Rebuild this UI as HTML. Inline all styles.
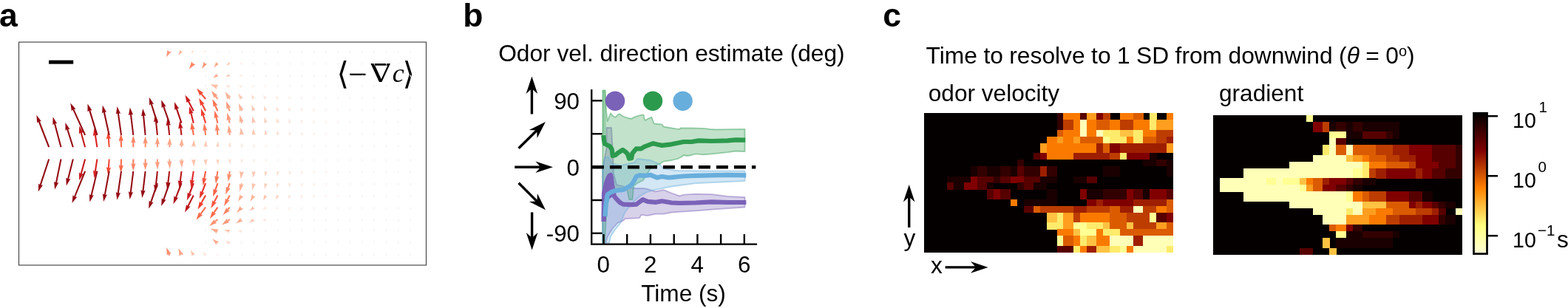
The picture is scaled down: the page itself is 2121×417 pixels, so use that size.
<!DOCTYPE html>
<html lang="en"><head><meta charset="utf-8"><title>Figure</title>
<style>html,body{margin:0;padding:0;background:#fff}body{width:2121px;height:417px;overflow:hidden}svg{display:block}</style>
</head><body>
<svg width="2121" height="417" viewBox="0 0 2121 417" font-family='"Liberation Sans", sans-serif' fill="#000">
<text x="-1" y="36.3" font-size="44.5" font-weight="bold" text-anchor="start" >a</text>
<text x="626.3" y="36.3" font-size="44.5" font-weight="bold" text-anchor="start" >b</text>
<text x="1194.3" y="36.3" font-size="44.5" font-weight="bold" text-anchor="start" >c</text>
<rect x="25.5" y="57" width="551" height="302" fill="#fff" stroke="#444" stroke-width="1.15"/>
<rect x="66" y="81.6" width="33.2" height="5" fill="#000"/>
<g font-family="'DejaVu Sans', 'DejaVu Serif', serif"><text x="455.5" y="114.2" font-size="42.3">⟨</text><text x="470.9" y="116.3" font-size="46" font-family="'Liberation Serif', 'DejaVu Serif', serif">−</text><text transform="translate(529,110.5) scale(-1.2,1)" font-size="34.5" font-family="'DejaVu Serif', serif">∇</text><text x="530.7" y="110.5" font-size="36" font-style="italic" font-family="'Liberation Serif', 'DejaVu Serif', serif">c</text><text x="544.6" y="114.2" font-size="42.3">⟩</text></g>
<g><path d="M277.2 199.2 h1.8 l-0.9 -4.5 Z" fill="#f3f0f1"/><path d="M277.2 215.5 h1.8 l-0.9 4.5 Z" fill="#f3f0f1"/><path d="M277.2 182.9 h1.8 l-0.9 -4.5 Z" fill="#f3f0f1"/><path d="M277.2 231.8 h1.8 l-0.9 4.5 Z" fill="#f3f0f1"/><path d="M277.2 166.6 h1.8 l-0.9 -4.5 Z" fill="#f3f0f1"/><path d="M277.2 248.1 h1.8 l-0.9 4.5 Z" fill="#f3f0f1"/><path d="M277.2 150.3 h1.8 l-0.9 -4.5 Z" fill="#f3f0f1"/><path d="M277.2 264.4 h1.8 l-0.9 4.5 Z" fill="#f3f0f1"/><path d="M277.2 134.0 h1.8 l-0.9 -4.5 Z" fill="#f3f0f1"/><path d="M277.2 280.7 h1.8 l-0.9 4.5 Z" fill="#f3f0f1"/><path d="M277.2 117.7 h1.8 l-0.9 -4.5 Z" fill="#f3f0f1"/><path d="M277.2 297.0 h1.8 l-0.9 4.5 Z" fill="#f3f0f1"/><path d="M277.2 101.4 h1.8 l-0.9 4.5 Z" fill="#f3f0f1"/><path d="M277.2 313.3 h1.8 l-0.9 -4.5 Z" fill="#f3f0f1"/><path d="M277.2 85.1 h1.8 l-0.9 4.5 Z" fill="#f3f0f1"/><path d="M277.2 329.6 h1.8 l-0.9 -4.5 Z" fill="#f3f0f1"/><path d="M277.2 68.8 h1.8 l-0.9 4.5 Z" fill="#f3f0f1"/><path d="M277.2 345.9 h1.8 l-0.9 -4.5 Z" fill="#f3f0f1"/><path d="M293.5 199.2 h1.8 l-0.9 -4.5 Z" fill="#f3f0f1"/><path d="M293.5 215.5 h1.8 l-0.9 4.5 Z" fill="#f3f0f1"/><path d="M293.5 182.9 h1.8 l-0.9 -4.5 Z" fill="#f3f0f1"/><path d="M293.5 231.8 h1.8 l-0.9 4.5 Z" fill="#f3f0f1"/><path d="M293.5 166.6 h1.8 l-0.9 -4.5 Z" fill="#f3f0f1"/><path d="M293.5 248.1 h1.8 l-0.9 4.5 Z" fill="#f3f0f1"/><path d="M293.5 150.3 h1.8 l-0.9 -4.5 Z" fill="#f3f0f1"/><path d="M293.5 264.4 h1.8 l-0.9 4.5 Z" fill="#f3f0f1"/><path d="M293.5 134.0 h1.8 l-0.9 -4.5 Z" fill="#f3f0f1"/><path d="M293.5 280.7 h1.8 l-0.9 4.5 Z" fill="#f3f0f1"/><path d="M293.5 117.7 h1.8 l-0.9 -4.5 Z" fill="#f3f0f1"/><path d="M293.5 297.0 h1.8 l-0.9 4.5 Z" fill="#f3f0f1"/><path d="M293.5 101.4 h1.8 l-0.9 4.5 Z" fill="#f3f0f1"/><path d="M293.5 313.3 h1.8 l-0.9 -4.5 Z" fill="#f3f0f1"/><path d="M293.5 85.1 h1.8 l-0.9 4.5 Z" fill="#f3f0f1"/><path d="M293.5 329.6 h1.8 l-0.9 -4.5 Z" fill="#f3f0f1"/><path d="M293.5 68.8 h1.8 l-0.9 4.5 Z" fill="#f3f0f1"/><path d="M293.5 345.9 h1.8 l-0.9 -4.5 Z" fill="#f3f0f1"/><path d="M309.8 199.2 h1.8 l-0.9 -4.5 Z" fill="#f3f0f1"/><path d="M309.8 215.5 h1.8 l-0.9 4.5 Z" fill="#f3f0f1"/><path d="M309.8 182.9 h1.8 l-0.9 -4.5 Z" fill="#f3f0f1"/><path d="M309.8 231.8 h1.8 l-0.9 4.5 Z" fill="#f3f0f1"/><path d="M309.8 166.6 h1.8 l-0.9 -4.5 Z" fill="#f3f0f1"/><path d="M309.8 248.1 h1.8 l-0.9 4.5 Z" fill="#f3f0f1"/><path d="M309.8 150.3 h1.8 l-0.9 -4.5 Z" fill="#f3f0f1"/><path d="M309.8 264.4 h1.8 l-0.9 4.5 Z" fill="#f3f0f1"/><path d="M309.8 134.0 h1.8 l-0.9 -4.5 Z" fill="#f3f0f1"/><path d="M309.8 280.7 h1.8 l-0.9 4.5 Z" fill="#f3f0f1"/><path d="M309.8 117.7 h1.8 l-0.9 -4.5 Z" fill="#f3f0f1"/><path d="M309.8 297.0 h1.8 l-0.9 4.5 Z" fill="#f3f0f1"/><path d="M309.8 101.4 h1.8 l-0.9 4.5 Z" fill="#f3f0f1"/><path d="M309.8 313.3 h1.8 l-0.9 -4.5 Z" fill="#f3f0f1"/><path d="M309.8 85.1 h1.8 l-0.9 4.5 Z" fill="#f3f0f1"/><path d="M309.8 329.6 h1.8 l-0.9 -4.5 Z" fill="#f3f0f1"/><path d="M309.8 68.8 h1.8 l-0.9 4.5 Z" fill="#f3f0f1"/><path d="M309.8 345.9 h1.8 l-0.9 -4.5 Z" fill="#f3f0f1"/><path d="M326.1 199.2 h1.8 l-0.9 -4.5 Z" fill="#f3f0f1"/><path d="M326.1 215.5 h1.8 l-0.9 4.5 Z" fill="#f3f0f1"/><path d="M326.1 182.9 h1.8 l-0.9 -4.5 Z" fill="#f3f0f1"/><path d="M326.1 231.8 h1.8 l-0.9 4.5 Z" fill="#f3f0f1"/><path d="M326.1 166.6 h1.8 l-0.9 -4.5 Z" fill="#f3f0f1"/><path d="M326.1 248.1 h1.8 l-0.9 4.5 Z" fill="#f3f0f1"/><path d="M326.1 150.3 h1.8 l-0.9 -4.5 Z" fill="#f3f0f1"/><path d="M326.1 264.4 h1.8 l-0.9 4.5 Z" fill="#f3f0f1"/><path d="M326.1 134.0 h1.8 l-0.9 -4.5 Z" fill="#f3f0f1"/><path d="M326.1 280.7 h1.8 l-0.9 4.5 Z" fill="#f3f0f1"/><path d="M326.1 117.7 h1.8 l-0.9 -4.5 Z" fill="#f3f0f1"/><path d="M326.1 297.0 h1.8 l-0.9 4.5 Z" fill="#f3f0f1"/><path d="M326.1 101.4 h1.8 l-0.9 4.5 Z" fill="#f3f0f1"/><path d="M326.1 313.3 h1.8 l-0.9 -4.5 Z" fill="#f3f0f1"/><path d="M326.1 85.1 h1.8 l-0.9 4.5 Z" fill="#f3f0f1"/><path d="M326.1 329.6 h1.8 l-0.9 -4.5 Z" fill="#f3f0f1"/><path d="M326.1 68.8 h1.8 l-0.9 4.5 Z" fill="#f3f0f1"/><path d="M326.1 345.9 h1.8 l-0.9 -4.5 Z" fill="#f3f0f1"/><path d="M342.4 199.2 h1.8 l-0.9 -4.5 Z" fill="#f3f0f1"/><path d="M342.4 215.5 h1.8 l-0.9 4.5 Z" fill="#f3f0f1"/><path d="M342.4 182.9 h1.8 l-0.9 -4.5 Z" fill="#f3f0f1"/><path d="M342.4 231.8 h1.8 l-0.9 4.5 Z" fill="#f3f0f1"/><path d="M342.4 166.6 h1.8 l-0.9 -4.5 Z" fill="#f3f0f1"/><path d="M342.4 248.1 h1.8 l-0.9 4.5 Z" fill="#f3f0f1"/><path d="M342.4 150.3 h1.8 l-0.9 -4.5 Z" fill="#f3f0f1"/><path d="M342.4 264.4 h1.8 l-0.9 4.5 Z" fill="#f3f0f1"/><path d="M342.4 134.0 h1.8 l-0.9 -4.5 Z" fill="#f3f0f1"/><path d="M342.4 280.7 h1.8 l-0.9 4.5 Z" fill="#f3f0f1"/><path d="M342.4 117.7 h1.8 l-0.9 -4.5 Z" fill="#f3f0f1"/><path d="M342.4 297.0 h1.8 l-0.9 4.5 Z" fill="#f3f0f1"/><path d="M342.4 101.4 h1.8 l-0.9 4.5 Z" fill="#f3f0f1"/><path d="M342.4 313.3 h1.8 l-0.9 -4.5 Z" fill="#f3f0f1"/><path d="M342.4 85.1 h1.8 l-0.9 4.5 Z" fill="#f3f0f1"/><path d="M342.4 329.6 h1.8 l-0.9 -4.5 Z" fill="#f3f0f1"/><path d="M342.4 68.8 h1.8 l-0.9 4.5 Z" fill="#f3f0f1"/><path d="M342.4 345.9 h1.8 l-0.9 -4.5 Z" fill="#f3f0f1"/><path d="M358.7 199.2 h1.8 l-0.9 -4.5 Z" fill="#f3f0f1"/><path d="M358.7 215.5 h1.8 l-0.9 4.5 Z" fill="#f3f0f1"/><path d="M358.7 182.9 h1.8 l-0.9 -4.5 Z" fill="#f3f0f1"/><path d="M358.7 231.8 h1.8 l-0.9 4.5 Z" fill="#f3f0f1"/><path d="M358.7 166.6 h1.8 l-0.9 -4.5 Z" fill="#f3f0f1"/><path d="M358.7 248.1 h1.8 l-0.9 4.5 Z" fill="#f3f0f1"/><path d="M358.7 150.3 h1.8 l-0.9 -4.5 Z" fill="#f3f0f1"/><path d="M358.7 264.4 h1.8 l-0.9 4.5 Z" fill="#f3f0f1"/><path d="M358.7 134.0 h1.8 l-0.9 -4.5 Z" fill="#f3f0f1"/><path d="M358.7 280.7 h1.8 l-0.9 4.5 Z" fill="#f3f0f1"/><path d="M358.7 117.7 h1.8 l-0.9 -4.5 Z" fill="#f3f0f1"/><path d="M358.7 297.0 h1.8 l-0.9 4.5 Z" fill="#f3f0f1"/><path d="M358.7 101.4 h1.8 l-0.9 4.5 Z" fill="#f3f0f1"/><path d="M358.7 313.3 h1.8 l-0.9 -4.5 Z" fill="#f3f0f1"/><path d="M358.7 85.1 h1.8 l-0.9 4.5 Z" fill="#f3f0f1"/><path d="M358.7 329.6 h1.8 l-0.9 -4.5 Z" fill="#f3f0f1"/><path d="M358.7 68.8 h1.8 l-0.9 4.5 Z" fill="#f3f0f1"/><path d="M358.7 345.9 h1.8 l-0.9 -4.5 Z" fill="#f3f0f1"/><path d="M375.0 199.2 h1.8 l-0.9 -4.5 Z" fill="#f3f0f1"/><path d="M375.0 215.5 h1.8 l-0.9 4.5 Z" fill="#f3f0f1"/><path d="M375.0 182.9 h1.8 l-0.9 -4.5 Z" fill="#f3f0f1"/><path d="M375.0 231.8 h1.8 l-0.9 4.5 Z" fill="#f3f0f1"/><path d="M375.0 166.6 h1.8 l-0.9 -4.5 Z" fill="#f3f0f1"/><path d="M375.0 248.1 h1.8 l-0.9 4.5 Z" fill="#f3f0f1"/><path d="M375.0 150.3 h1.8 l-0.9 -4.5 Z" fill="#f3f0f1"/><path d="M375.0 264.4 h1.8 l-0.9 4.5 Z" fill="#f3f0f1"/><path d="M375.0 134.0 h1.8 l-0.9 -4.5 Z" fill="#f3f0f1"/><path d="M375.0 280.7 h1.8 l-0.9 4.5 Z" fill="#f3f0f1"/><path d="M375.0 117.7 h1.8 l-0.9 -4.5 Z" fill="#f3f0f1"/><path d="M375.0 297.0 h1.8 l-0.9 4.5 Z" fill="#f3f0f1"/><path d="M375.0 101.4 h1.8 l-0.9 4.5 Z" fill="#f3f0f1"/><path d="M375.0 313.3 h1.8 l-0.9 -4.5 Z" fill="#f3f0f1"/><path d="M375.0 85.1 h1.8 l-0.9 4.5 Z" fill="#f3f0f1"/><path d="M375.0 329.6 h1.8 l-0.9 -4.5 Z" fill="#f3f0f1"/><path d="M375.0 68.8 h1.8 l-0.9 4.5 Z" fill="#f3f0f1"/><path d="M375.0 345.9 h1.8 l-0.9 -4.5 Z" fill="#f3f0f1"/><path d="M391.3 199.2 h1.8 l-0.9 -4.5 Z" fill="#f3f0f1"/><path d="M391.3 215.5 h1.8 l-0.9 4.5 Z" fill="#f3f0f1"/><path d="M391.3 182.9 h1.8 l-0.9 -4.5 Z" fill="#f3f0f1"/><path d="M391.3 231.8 h1.8 l-0.9 4.5 Z" fill="#f3f0f1"/><path d="M391.3 166.6 h1.8 l-0.9 -4.5 Z" fill="#f3f0f1"/><path d="M391.3 248.1 h1.8 l-0.9 4.5 Z" fill="#f3f0f1"/><path d="M391.3 150.3 h1.8 l-0.9 -4.5 Z" fill="#f3f0f1"/><path d="M391.3 264.4 h1.8 l-0.9 4.5 Z" fill="#f3f0f1"/><path d="M391.3 134.0 h1.8 l-0.9 -4.5 Z" fill="#f3f0f1"/><path d="M391.3 280.7 h1.8 l-0.9 4.5 Z" fill="#f3f0f1"/><path d="M391.3 117.7 h1.8 l-0.9 -4.5 Z" fill="#f3f0f1"/><path d="M391.3 297.0 h1.8 l-0.9 4.5 Z" fill="#f3f0f1"/><path d="M391.3 101.4 h1.8 l-0.9 4.5 Z" fill="#f3f0f1"/><path d="M391.3 313.3 h1.8 l-0.9 -4.5 Z" fill="#f3f0f1"/><path d="M391.3 85.1 h1.8 l-0.9 4.5 Z" fill="#f3f0f1"/><path d="M391.3 329.6 h1.8 l-0.9 -4.5 Z" fill="#f3f0f1"/><path d="M391.3 68.8 h1.8 l-0.9 4.5 Z" fill="#f3f0f1"/><path d="M391.3 345.9 h1.8 l-0.9 -4.5 Z" fill="#f3f0f1"/><path d="M407.6 199.2 h1.8 l-0.9 -4.5 Z" fill="#f3f0f1"/><path d="M407.6 215.5 h1.8 l-0.9 4.5 Z" fill="#f3f0f1"/><path d="M407.6 182.9 h1.8 l-0.9 -4.5 Z" fill="#f3f0f1"/><path d="M407.6 231.8 h1.8 l-0.9 4.5 Z" fill="#f3f0f1"/><path d="M407.6 166.6 h1.8 l-0.9 -4.5 Z" fill="#f3f0f1"/><path d="M407.6 248.1 h1.8 l-0.9 4.5 Z" fill="#f3f0f1"/><path d="M407.6 150.3 h1.8 l-0.9 -4.5 Z" fill="#f3f0f1"/><path d="M407.6 264.4 h1.8 l-0.9 4.5 Z" fill="#f3f0f1"/><path d="M407.6 134.0 h1.8 l-0.9 -4.5 Z" fill="#f3f0f1"/><path d="M407.6 280.7 h1.8 l-0.9 4.5 Z" fill="#f3f0f1"/><path d="M407.6 117.7 h1.8 l-0.9 -4.5 Z" fill="#f3f0f1"/><path d="M407.6 297.0 h1.8 l-0.9 4.5 Z" fill="#f3f0f1"/><path d="M407.6 101.4 h1.8 l-0.9 4.5 Z" fill="#f3f0f1"/><path d="M407.6 313.3 h1.8 l-0.9 -4.5 Z" fill="#f3f0f1"/><path d="M407.6 85.1 h1.8 l-0.9 4.5 Z" fill="#f3f0f1"/><path d="M407.6 329.6 h1.8 l-0.9 -4.5 Z" fill="#f3f0f1"/><path d="M407.6 68.8 h1.8 l-0.9 4.5 Z" fill="#f3f0f1"/><path d="M407.6 345.9 h1.8 l-0.9 -4.5 Z" fill="#f3f0f1"/><path d="M423.9 199.2 h1.8 l-0.9 -4.5 Z" fill="#f3f0f1"/><path d="M423.9 215.5 h1.8 l-0.9 4.5 Z" fill="#f3f0f1"/><path d="M423.9 182.9 h1.8 l-0.9 -4.5 Z" fill="#f3f0f1"/><path d="M423.9 231.8 h1.8 l-0.9 4.5 Z" fill="#f3f0f1"/><path d="M423.9 166.6 h1.8 l-0.9 -4.5 Z" fill="#f3f0f1"/><path d="M423.9 248.1 h1.8 l-0.9 4.5 Z" fill="#f3f0f1"/><path d="M423.9 150.3 h1.8 l-0.9 -4.5 Z" fill="#f3f0f1"/><path d="M423.9 264.4 h1.8 l-0.9 4.5 Z" fill="#f3f0f1"/><path d="M423.9 134.0 h1.8 l-0.9 -4.5 Z" fill="#f3f0f1"/><path d="M423.9 280.7 h1.8 l-0.9 4.5 Z" fill="#f3f0f1"/><path d="M423.9 117.7 h1.8 l-0.9 -4.5 Z" fill="#f3f0f1"/><path d="M423.9 297.0 h1.8 l-0.9 4.5 Z" fill="#f3f0f1"/><path d="M423.9 101.4 h1.8 l-0.9 4.5 Z" fill="#f3f0f1"/><path d="M423.9 313.3 h1.8 l-0.9 -4.5 Z" fill="#f3f0f1"/><path d="M423.9 85.1 h1.8 l-0.9 4.5 Z" fill="#f3f0f1"/><path d="M423.9 329.6 h1.8 l-0.9 -4.5 Z" fill="#f3f0f1"/><path d="M423.9 68.8 h1.8 l-0.9 4.5 Z" fill="#f3f0f1"/><path d="M423.9 345.9 h1.8 l-0.9 -4.5 Z" fill="#f3f0f1"/><path d="M440.2 199.2 h1.8 l-0.9 -4.5 Z" fill="#f3f0f1"/><path d="M440.2 215.5 h1.8 l-0.9 4.5 Z" fill="#f3f0f1"/><path d="M440.2 182.9 h1.8 l-0.9 -4.5 Z" fill="#f3f0f1"/><path d="M440.2 231.8 h1.8 l-0.9 4.5 Z" fill="#f3f0f1"/><path d="M440.2 166.6 h1.8 l-0.9 -4.5 Z" fill="#f3f0f1"/><path d="M440.2 248.1 h1.8 l-0.9 4.5 Z" fill="#f3f0f1"/><path d="M440.2 150.3 h1.8 l-0.9 -4.5 Z" fill="#f3f0f1"/><path d="M440.2 264.4 h1.8 l-0.9 4.5 Z" fill="#f3f0f1"/><path d="M440.2 134.0 h1.8 l-0.9 -4.5 Z" fill="#f3f0f1"/><path d="M440.2 280.7 h1.8 l-0.9 4.5 Z" fill="#f3f0f1"/><path d="M440.2 117.7 h1.8 l-0.9 -4.5 Z" fill="#f3f0f1"/><path d="M440.2 297.0 h1.8 l-0.9 4.5 Z" fill="#f3f0f1"/><path d="M440.2 101.4 h1.8 l-0.9 4.5 Z" fill="#f3f0f1"/><path d="M440.2 313.3 h1.8 l-0.9 -4.5 Z" fill="#f3f0f1"/><path d="M440.2 85.1 h1.8 l-0.9 4.5 Z" fill="#f3f0f1"/><path d="M440.2 329.6 h1.8 l-0.9 -4.5 Z" fill="#f3f0f1"/><path d="M440.2 68.8 h1.8 l-0.9 4.5 Z" fill="#f3f0f1"/><path d="M440.2 345.9 h1.8 l-0.9 -4.5 Z" fill="#f3f0f1"/><path d="M456.5 199.2 h1.8 l-0.9 -4.5 Z" fill="#f3f0f1"/><path d="M456.5 215.5 h1.8 l-0.9 4.5 Z" fill="#f3f0f1"/><path d="M456.5 182.9 h1.8 l-0.9 -4.5 Z" fill="#f3f0f1"/><path d="M456.5 231.8 h1.8 l-0.9 4.5 Z" fill="#f3f0f1"/><path d="M456.5 166.6 h1.8 l-0.9 -4.5 Z" fill="#f3f0f1"/><path d="M456.5 248.1 h1.8 l-0.9 4.5 Z" fill="#f3f0f1"/><path d="M456.5 150.3 h1.8 l-0.9 -4.5 Z" fill="#f3f0f1"/><path d="M456.5 264.4 h1.8 l-0.9 4.5 Z" fill="#f3f0f1"/><path d="M456.5 134.0 h1.8 l-0.9 -4.5 Z" fill="#f3f0f1"/><path d="M456.5 280.7 h1.8 l-0.9 4.5 Z" fill="#f3f0f1"/><path d="M456.5 117.7 h1.8 l-0.9 -4.5 Z" fill="#f3f0f1"/><path d="M456.5 297.0 h1.8 l-0.9 4.5 Z" fill="#f3f0f1"/><path d="M456.5 101.4 h1.8 l-0.9 4.5 Z" fill="#f3f0f1"/><path d="M456.5 313.3 h1.8 l-0.9 -4.5 Z" fill="#f3f0f1"/><path d="M456.5 85.1 h1.8 l-0.9 4.5 Z" fill="#f3f0f1"/><path d="M456.5 329.6 h1.8 l-0.9 -4.5 Z" fill="#f3f0f1"/><path d="M456.5 68.8 h1.8 l-0.9 4.5 Z" fill="#f3f0f1"/><path d="M456.5 345.9 h1.8 l-0.9 -4.5 Z" fill="#f3f0f1"/><path d="M472.8 199.2 h1.8 l-0.9 -4.5 Z" fill="#f3f0f1"/><path d="M472.8 215.5 h1.8 l-0.9 4.5 Z" fill="#f3f0f1"/><path d="M472.8 182.9 h1.8 l-0.9 -4.5 Z" fill="#f3f0f1"/><path d="M472.8 231.8 h1.8 l-0.9 4.5 Z" fill="#f3f0f1"/><path d="M472.8 166.6 h1.8 l-0.9 -4.5 Z" fill="#f3f0f1"/><path d="M472.8 248.1 h1.8 l-0.9 4.5 Z" fill="#f3f0f1"/><path d="M472.8 150.3 h1.8 l-0.9 -4.5 Z" fill="#f3f0f1"/><path d="M472.8 264.4 h1.8 l-0.9 4.5 Z" fill="#f3f0f1"/><path d="M472.8 134.0 h1.8 l-0.9 -4.5 Z" fill="#f3f0f1"/><path d="M472.8 280.7 h1.8 l-0.9 4.5 Z" fill="#f3f0f1"/><path d="M472.8 117.7 h1.8 l-0.9 -4.5 Z" fill="#f3f0f1"/><path d="M472.8 297.0 h1.8 l-0.9 4.5 Z" fill="#f3f0f1"/><path d="M472.8 101.4 h1.8 l-0.9 4.5 Z" fill="#f3f0f1"/><path d="M472.8 313.3 h1.8 l-0.9 -4.5 Z" fill="#f3f0f1"/><path d="M472.8 85.1 h1.8 l-0.9 4.5 Z" fill="#f3f0f1"/><path d="M472.8 329.6 h1.8 l-0.9 -4.5 Z" fill="#f3f0f1"/><path d="M472.8 68.8 h1.8 l-0.9 4.5 Z" fill="#f3f0f1"/><path d="M472.8 345.9 h1.8 l-0.9 -4.5 Z" fill="#f3f0f1"/><path d="M489.1 199.2 h1.8 l-0.9 -4.5 Z" fill="#f3f0f1"/><path d="M489.1 215.5 h1.8 l-0.9 4.5 Z" fill="#f3f0f1"/><path d="M489.1 182.9 h1.8 l-0.9 -4.5 Z" fill="#f3f0f1"/><path d="M489.1 231.8 h1.8 l-0.9 4.5 Z" fill="#f3f0f1"/><path d="M489.1 166.6 h1.8 l-0.9 -4.5 Z" fill="#f3f0f1"/><path d="M489.1 248.1 h1.8 l-0.9 4.5 Z" fill="#f3f0f1"/><path d="M489.1 150.3 h1.8 l-0.9 -4.5 Z" fill="#f3f0f1"/><path d="M489.1 264.4 h1.8 l-0.9 4.5 Z" fill="#f3f0f1"/><path d="M489.1 134.0 h1.8 l-0.9 -4.5 Z" fill="#f3f0f1"/><path d="M489.1 280.7 h1.8 l-0.9 4.5 Z" fill="#f3f0f1"/><path d="M489.1 117.7 h1.8 l-0.9 -4.5 Z" fill="#f3f0f1"/><path d="M489.1 297.0 h1.8 l-0.9 4.5 Z" fill="#f3f0f1"/><path d="M489.1 101.4 h1.8 l-0.9 4.5 Z" fill="#f3f0f1"/><path d="M489.1 313.3 h1.8 l-0.9 -4.5 Z" fill="#f3f0f1"/><path d="M489.1 85.1 h1.8 l-0.9 4.5 Z" fill="#f3f0f1"/><path d="M489.1 329.6 h1.8 l-0.9 -4.5 Z" fill="#f3f0f1"/><path d="M489.1 68.8 h1.8 l-0.9 4.5 Z" fill="#f3f0f1"/><path d="M489.1 345.9 h1.8 l-0.9 -4.5 Z" fill="#f3f0f1"/><path d="M505.4 199.2 h1.8 l-0.9 -4.5 Z" fill="#f3f0f1"/><path d="M505.4 215.5 h1.8 l-0.9 4.5 Z" fill="#f3f0f1"/><path d="M505.4 182.9 h1.8 l-0.9 -4.5 Z" fill="#f3f0f1"/><path d="M505.4 231.8 h1.8 l-0.9 4.5 Z" fill="#f3f0f1"/><path d="M505.4 166.6 h1.8 l-0.9 -4.5 Z" fill="#f3f0f1"/><path d="M505.4 248.1 h1.8 l-0.9 4.5 Z" fill="#f3f0f1"/><path d="M505.4 150.3 h1.8 l-0.9 -4.5 Z" fill="#f3f0f1"/><path d="M505.4 264.4 h1.8 l-0.9 4.5 Z" fill="#f3f0f1"/><path d="M505.4 134.0 h1.8 l-0.9 -4.5 Z" fill="#f3f0f1"/><path d="M505.4 280.7 h1.8 l-0.9 4.5 Z" fill="#f3f0f1"/><path d="M505.4 117.7 h1.8 l-0.9 -4.5 Z" fill="#f3f0f1"/><path d="M505.4 297.0 h1.8 l-0.9 4.5 Z" fill="#f3f0f1"/><path d="M505.4 101.4 h1.8 l-0.9 4.5 Z" fill="#f3f0f1"/><path d="M505.4 313.3 h1.8 l-0.9 -4.5 Z" fill="#f3f0f1"/><path d="M505.4 85.1 h1.8 l-0.9 4.5 Z" fill="#f3f0f1"/><path d="M505.4 329.6 h1.8 l-0.9 -4.5 Z" fill="#f3f0f1"/><path d="M505.4 68.8 h1.8 l-0.9 4.5 Z" fill="#f3f0f1"/><path d="M505.4 345.9 h1.8 l-0.9 -4.5 Z" fill="#f3f0f1"/><path d="M521.7 199.2 h1.8 l-0.9 -4.5 Z" fill="#f3f0f1"/><path d="M521.7 215.5 h1.8 l-0.9 4.5 Z" fill="#f3f0f1"/><path d="M521.7 182.9 h1.8 l-0.9 -4.5 Z" fill="#f3f0f1"/><path d="M521.7 231.8 h1.8 l-0.9 4.5 Z" fill="#f3f0f1"/><path d="M521.7 166.6 h1.8 l-0.9 -4.5 Z" fill="#f3f0f1"/><path d="M521.7 248.1 h1.8 l-0.9 4.5 Z" fill="#f3f0f1"/><path d="M521.7 150.3 h1.8 l-0.9 -4.5 Z" fill="#f3f0f1"/><path d="M521.7 264.4 h1.8 l-0.9 4.5 Z" fill="#f3f0f1"/><path d="M521.7 134.0 h1.8 l-0.9 -4.5 Z" fill="#f3f0f1"/><path d="M521.7 280.7 h1.8 l-0.9 4.5 Z" fill="#f3f0f1"/><path d="M521.7 117.7 h1.8 l-0.9 -4.5 Z" fill="#f3f0f1"/><path d="M521.7 297.0 h1.8 l-0.9 4.5 Z" fill="#f3f0f1"/><path d="M521.7 101.4 h1.8 l-0.9 4.5 Z" fill="#f3f0f1"/><path d="M521.7 313.3 h1.8 l-0.9 -4.5 Z" fill="#f3f0f1"/><path d="M521.7 85.1 h1.8 l-0.9 4.5 Z" fill="#f3f0f1"/><path d="M521.7 329.6 h1.8 l-0.9 -4.5 Z" fill="#f3f0f1"/><path d="M521.7 68.8 h1.8 l-0.9 4.5 Z" fill="#f3f0f1"/><path d="M521.7 345.9 h1.8 l-0.9 -4.5 Z" fill="#f3f0f1"/><path d="M538.0 199.2 h1.8 l-0.9 -4.5 Z" fill="#f3f0f1"/><path d="M538.0 215.5 h1.8 l-0.9 4.5 Z" fill="#f3f0f1"/><path d="M538.0 182.9 h1.8 l-0.9 -4.5 Z" fill="#f3f0f1"/><path d="M538.0 231.8 h1.8 l-0.9 4.5 Z" fill="#f3f0f1"/><path d="M538.0 166.6 h1.8 l-0.9 -4.5 Z" fill="#f3f0f1"/><path d="M538.0 248.1 h1.8 l-0.9 4.5 Z" fill="#f3f0f1"/><path d="M538.0 150.3 h1.8 l-0.9 -4.5 Z" fill="#f3f0f1"/><path d="M538.0 264.4 h1.8 l-0.9 4.5 Z" fill="#f3f0f1"/><path d="M538.0 134.0 h1.8 l-0.9 -4.5 Z" fill="#f3f0f1"/><path d="M538.0 280.7 h1.8 l-0.9 4.5 Z" fill="#f3f0f1"/><path d="M538.0 117.7 h1.8 l-0.9 -4.5 Z" fill="#f3f0f1"/><path d="M538.0 297.0 h1.8 l-0.9 4.5 Z" fill="#f3f0f1"/><path d="M538.0 101.4 h1.8 l-0.9 4.5 Z" fill="#f3f0f1"/><path d="M538.0 313.3 h1.8 l-0.9 -4.5 Z" fill="#f3f0f1"/><path d="M538.0 85.1 h1.8 l-0.9 4.5 Z" fill="#f3f0f1"/><path d="M538.0 329.6 h1.8 l-0.9 -4.5 Z" fill="#f3f0f1"/><path d="M538.0 68.8 h1.8 l-0.9 4.5 Z" fill="#f3f0f1"/><path d="M538.0 345.9 h1.8 l-0.9 -4.5 Z" fill="#f3f0f1"/><path d="M554.3 199.2 h1.8 l-0.9 -4.5 Z" fill="#f3f0f1"/><path d="M554.3 215.5 h1.8 l-0.9 4.5 Z" fill="#f3f0f1"/><path d="M554.3 182.9 h1.8 l-0.9 -4.5 Z" fill="#f3f0f1"/><path d="M554.3 231.8 h1.8 l-0.9 4.5 Z" fill="#f3f0f1"/><path d="M554.3 166.6 h1.8 l-0.9 -4.5 Z" fill="#f3f0f1"/><path d="M554.3 248.1 h1.8 l-0.9 4.5 Z" fill="#f3f0f1"/><path d="M554.3 150.3 h1.8 l-0.9 -4.5 Z" fill="#f3f0f1"/><path d="M554.3 264.4 h1.8 l-0.9 4.5 Z" fill="#f3f0f1"/><path d="M554.3 134.0 h1.8 l-0.9 -4.5 Z" fill="#f3f0f1"/><path d="M554.3 280.7 h1.8 l-0.9 4.5 Z" fill="#f3f0f1"/><path d="M554.3 117.7 h1.8 l-0.9 -4.5 Z" fill="#f3f0f1"/><path d="M554.3 297.0 h1.8 l-0.9 4.5 Z" fill="#f3f0f1"/><path d="M554.3 101.4 h1.8 l-0.9 4.5 Z" fill="#f3f0f1"/><path d="M554.3 313.3 h1.8 l-0.9 -4.5 Z" fill="#f3f0f1"/><path d="M554.3 85.1 h1.8 l-0.9 4.5 Z" fill="#f3f0f1"/><path d="M554.3 329.6 h1.8 l-0.9 -4.5 Z" fill="#f3f0f1"/><path d="M554.3 68.8 h1.8 l-0.9 4.5 Z" fill="#f3f0f1"/><path d="M554.3 345.9 h1.8 l-0.9 -4.5 Z" fill="#f3f0f1"/><path d="M490.2 166.3 L490.8 166.4 L489.4 163.9 L489.2 166.8 L489.7 166.4Z" fill="#fff2eb"/><path d="M489.7 248.3 L489.2 247.9 L489.4 250.8 L490.8 248.3 L490.2 248.4Z" fill="#fff2eb"/><path d="M457.5 133.6 L458.1 133.5 L455.9 131.7 L456.7 134.5 L457.0 133.9Z" fill="#fff2eb"/><path d="M457.0 280.8 L456.7 280.2 L455.9 283.0 L458.1 281.2 L457.5 281.1Z" fill="#fff2eb"/><path d="M310.3 68.7 L310.2 68.1 L308.4 70.3 L311.2 69.5 L310.6 69.2Z" fill="#fff2eb"/><path d="M310.6 345.5 L311.2 345.2 L308.4 344.4 L310.2 346.6 L310.3 346.0Z" fill="#fff2eb"/><path d="M359.3 101.2 L359.3 100.6 L357.0 102.3 L359.9 102.2 L359.4 101.7Z" fill="#fff2eb"/><path d="M359.4 313.0 L359.9 312.5 L357.0 312.4 L359.3 314.1 L359.3 313.5Z" fill="#fff2eb"/><path d="M392.0 117.3 L392.5 116.9 L389.6 116.7 L391.9 118.5 L391.8 117.9Z" fill="#fff1eb"/><path d="M391.8 296.8 L391.9 296.2 L389.6 298.0 L392.5 297.8 L392.0 297.4Z" fill="#fff1eb"/><path d="M375.5 85.0 L375.4 84.4 L373.7 86.8 L376.4 85.8 L375.8 85.5Z" fill="#fff1eb"/><path d="M375.8 329.2 L376.4 328.9 L373.7 327.9 L375.4 330.3 L375.5 329.7Z" fill="#fff1eb"/><path d="M408.8 198.9 L409.4 199.3 L408.7 196.3 L407.6 199.1 L408.2 198.9Z" fill="#fff1eb"/><path d="M408.2 215.8 L407.6 215.6 L408.7 218.4 L409.4 215.4 L408.8 215.8Z" fill="#fff1eb"/><path d="M473.9 149.9 L474.5 150.0 L472.7 147.5 L472.9 150.6 L473.3 150.1Z" fill="#fff1eb"/><path d="M473.3 264.6 L472.9 264.1 L472.7 267.2 L474.5 264.7 L473.9 264.8Z" fill="#fff1eb"/><path d="M474.0 182.6 L474.6 182.8 L473.4 179.9 L472.8 183.0 L473.4 182.6Z" fill="#fff1eb"/><path d="M473.4 232.1 L472.8 231.7 L473.4 234.8 L474.6 231.9 L474.0 232.1Z" fill="#fff1eb"/><path d="M473.9 166.2 L474.6 166.4 L473.0 163.5 L472.8 166.8 L473.3 166.4Z" fill="#fff1ea"/><path d="M473.3 248.3 L472.8 247.9 L473.0 251.2 L474.6 248.3 L473.9 248.5Z" fill="#fff1ea"/><path d="M441.2 133.6 L441.9 133.5 L439.4 131.4 L440.3 134.5 L440.7 133.9Z" fill="#fff1ea"/><path d="M440.7 280.8 L440.3 280.2 L439.4 283.3 L441.9 281.2 L441.2 281.1Z" fill="#fff1ea"/><path d="M294.0 68.7 L293.9 68.0 L291.8 70.5 L294.9 69.6 L294.3 69.2Z" fill="#fff1ea"/><path d="M294.3 345.5 L294.9 345.1 L291.8 344.2 L293.9 346.7 L294.0 346.0Z" fill="#fff1ea"/><path d="M342.9 101.2 L343.0 100.5 L340.3 102.4 L343.6 102.3 L343.1 101.8Z" fill="#fff1ea"/><path d="M375.7 117.3 L376.2 116.8 L372.9 116.6 L375.6 118.6 L375.5 117.9Z" fill="#fff1ea"/><path d="M375.5 296.8 L375.6 296.1 L372.9 298.1 L376.2 297.9 L375.7 297.4Z" fill="#fff1ea"/><path d="M359.1 85.0 L359.0 84.3 L357.0 87.1 L360.2 85.9 L359.5 85.6Z" fill="#fff1ea"/><path d="M359.5 329.1 L360.2 328.8 L357.0 327.6 L359.0 330.4 L359.1 329.7Z" fill="#fff1ea"/><path d="M392.5 198.9 L393.2 199.3 L392.4 195.9 L391.2 199.1 L391.9 198.9Z" fill="#fff1ea"/><path d="M391.9 215.8 L391.2 215.6 L392.4 218.8 L393.2 215.4 L392.5 215.8Z" fill="#fff1ea"/><path d="M457.6 149.9 L458.4 150.0 L456.3 147.1 L456.4 150.6 L457.0 150.1Z" fill="#fff1ea"/><path d="M457.0 264.6 L456.4 264.1 L456.3 267.6 L458.4 264.7 L457.6 264.8Z" fill="#fff1ea"/><path d="M457.7 182.5 L458.4 182.8 L457.0 179.5 L456.4 183.0 L457.0 182.6Z" fill="#fff1ea"/><path d="M457.0 232.1 L456.4 231.7 L457.0 235.2 L458.4 231.9 L457.7 232.2Z" fill="#fff1ea"/><path d="M457.7 166.2 L458.5 166.4 L456.6 163.1 L456.3 166.8 L457.0 166.3Z" fill="#fff0ea"/><path d="M457.0 248.4 L456.3 247.9 L456.6 251.6 L458.5 248.3 L457.7 248.5Z" fill="#fff0ea"/><path d="M424.9 133.5 L425.7 133.4 L422.8 131.0 L423.9 134.6 L424.3 133.9Z" fill="#fff0ea"/><path d="M424.3 280.8 L423.9 280.1 L422.8 283.7 L425.7 281.3 L424.9 281.2Z" fill="#fff0ea"/><path d="M359.4 117.2 L360.0 116.7 L356.1 116.4 L359.2 118.7 L359.1 117.9Z" fill="#fff0e9"/><path d="M342.8 85.0 L342.6 84.2 L340.3 87.4 L344.0 86.0 L343.2 85.6Z" fill="#fff0e9"/><path d="M343.2 329.1 L344.0 328.7 L340.3 327.3 L342.6 330.5 L342.8 329.7Z" fill="#fff0e9"/><path d="M376.3 198.8 L377.0 199.3 L376.1 195.4 L374.8 199.1 L375.5 198.8Z" fill="#fff0e9"/><path d="M375.5 215.9 L374.8 215.6 L376.1 219.3 L377.0 215.4 L376.3 215.9Z" fill="#fff0e9"/><path d="M441.3 149.8 L442.2 149.9 L439.8 146.6 L440.0 150.7 L440.6 150.1Z" fill="#fff0e9"/><path d="M440.6 264.6 L440.0 264.0 L439.8 268.1 L442.2 264.8 L441.3 264.9Z" fill="#fff0e9"/><path d="M441.4 182.5 L442.3 182.8 L440.7 179.0 L439.9 183.0 L440.7 182.6Z" fill="#fff0e9"/><path d="M440.7 232.1 L439.9 231.7 L440.7 235.7 L442.3 231.9 L441.4 232.2Z" fill="#fff0e9"/><path d="M441.4 166.1 L442.3 166.3 L440.2 162.6 L439.9 166.9 L440.6 166.3Z" fill="#ffefe8"/><path d="M440.6 248.4 L439.9 247.8 L440.2 252.1 L442.3 248.4 L441.4 248.6Z" fill="#ffefe8"/><path d="M408.6 133.4 L409.5 133.3 L406.2 130.6 L407.5 134.7 L407.9 133.9Z" fill="#ffefe8"/><path d="M407.9 280.8 L407.5 280.0 L406.2 284.1 L409.5 281.4 L408.6 281.3Z" fill="#ffefe8"/><path d="M343.1 117.1 L343.8 116.5 L339.3 116.2 L342.9 118.9 L342.8 117.9Z" fill="#ffefe7"/><path d="M326.4 85.0 L326.2 84.1 L323.6 87.7 L327.8 86.1 L326.9 85.7Z" fill="#ffefe7"/><path d="M343.0 313.0 L343.3 312.4 L340.3 313.3 L343.3 314.2 L343.0 313.6Z" fill="#ffeee6"/><path d="M326.8 329.2 L327.3 328.7 L324.0 328.6 L326.7 330.5 L326.6 329.8Z" fill="#ffeee6"/><path d="M360.1 198.8 L360.9 199.3 L359.9 194.8 L358.3 199.1 L359.2 198.7Z" fill="#ffeee6"/><path d="M359.2 216.0 L358.3 215.6 L359.9 219.8 L360.9 215.4 L360.1 215.9Z" fill="#ffeee6"/><path d="M375.3 280.6 L375.1 279.6 L372.4 283.5 L376.7 281.8 L375.8 281.3Z" fill="#ffeee5"/><path d="M425.1 149.7 L426.1 149.9 L423.3 146.1 L423.5 150.7 L424.2 150.0Z" fill="#ffede5"/><path d="M424.2 264.7 L423.5 264.0 L423.3 268.6 L426.1 264.8 L425.1 265.0Z" fill="#ffede5"/><path d="M425.2 182.4 L426.1 182.8 L424.3 178.4 L423.5 183.0 L424.3 182.5Z" fill="#ffede5"/><path d="M424.3 232.2 L423.5 231.7 L424.3 236.3 L426.1 231.9 L425.2 232.3Z" fill="#ffede5"/><path d="M425.2 166.0 L426.2 166.3 L423.8 162.0 L423.4 166.9 L424.2 166.2Z" fill="#ffece3"/><path d="M424.2 248.5 L423.4 247.8 L423.8 252.7 L426.2 248.4 L425.2 248.7Z" fill="#ffece3"/><path d="M392.3 133.3 L393.4 133.2 L389.6 130.0 L391.0 134.8 L391.5 133.9Z" fill="#ffece3"/><path d="M391.5 280.8 L391.0 279.9 L389.6 284.7 L393.4 281.5 L392.3 281.4Z" fill="#ffece3"/><path d="M343.8 198.7 L344.8 199.3 L343.6 194.2 L341.8 199.1 L342.8 198.7Z" fill="#ffebe2"/><path d="M342.8 216.0 L341.8 215.6 L343.6 220.5 L344.8 215.4 L343.8 216.0Z" fill="#ffebe2"/><path d="M408.8 149.6 L410.0 149.8 L406.8 145.4 L407.0 150.8 L407.8 150.0Z" fill="#feeae0"/><path d="M407.8 264.7 L407.0 263.9 L406.8 269.3 L410.0 264.9 L408.8 265.1Z" fill="#feeae0"/><path d="M409.0 182.3 L410.0 182.7 L407.9 177.7 L407.0 183.1 L407.9 182.4Z" fill="#feeae0"/><path d="M407.9 232.3 L407.0 231.6 L407.9 237.0 L410.0 232.0 L409.0 232.4Z" fill="#feeae0"/><path d="M326.7 117.0 L327.6 116.2 L322.0 115.7 L326.4 119.2 L326.3 118.0Z" fill="#fee9df"/><path d="M408.9 166.0 L410.1 166.3 L407.4 161.3 L406.9 166.9 L407.9 166.2Z" fill="#fee9de"/><path d="M407.9 248.5 L406.9 247.8 L407.4 253.4 L410.1 248.4 L408.9 248.7Z" fill="#fee9de"/><path d="M376.1 133.2 L377.3 133.1 L372.9 129.5 L374.5 134.9 L375.1 133.8Z" fill="#fee9de"/><path d="M277.6 68.7 L277.5 67.9 L275.1 70.8 L278.7 69.7 L278.0 69.3Z" fill="#fee8dd"/><path d="M358.8 280.6 L358.6 279.3 L355.1 284.2 L360.7 282.1 L359.5 281.5Z" fill="#fee7dd"/><path d="M392.6 149.5 L393.9 149.7 L390.2 144.7 L390.5 150.9 L391.4 149.9Z" fill="#fee6db"/><path d="M392.7 182.2 L394.0 182.7 L391.5 177.0 L390.4 183.1 L391.5 182.4Z" fill="#fee6db"/><path d="M391.5 232.3 L390.4 231.6 L391.5 237.7 L394.0 232.0 L392.7 232.5Z" fill="#fee6db"/><path d="M327.6 198.6 L328.8 199.3 L327.3 193.2 L325.2 199.1 L326.4 198.6Z" fill="#fee6da"/><path d="M326.4 216.1 L325.2 215.6 L327.3 221.5 L328.8 215.4 L327.6 216.1Z" fill="#fee6da"/><path d="M326.5 101.1 L326.6 100.2 L323.0 102.9 L327.4 102.6 L326.8 101.9Z" fill="#fee4d8"/><path d="M326.5 312.7 L327.1 311.7 L321.5 312.8 L326.9 314.9 L326.4 313.8Z" fill="#fee4d8"/><path d="M278.2 345.0 L279.7 344.7 L274.1 340.5 L276.5 347.1 L277.2 345.8Z" fill="#fee4d8"/><path d="M358.9 296.8 L358.9 295.5 L354.6 299.5 L360.4 298.5 L359.4 297.8Z" fill="#fee4d8"/><path d="M392.7 165.9 L394.0 166.2 L390.9 160.5 L390.4 167.0 L391.5 166.1Z" fill="#fee4d8"/><path d="M391.5 248.6 L390.4 247.7 L390.9 254.2 L394.0 248.5 L392.7 248.8Z" fill="#fee4d8"/><path d="M359.8 133.1 L361.2 133.0 L356.1 128.8 L358.0 135.0 L358.7 133.8Z" fill="#fee4d8"/><path d="M310.3 116.9 L311.4 115.8 L304.5 115.5 L310.0 119.6 L309.9 118.1Z" fill="#fee2d5"/><path d="M391.4 264.6 L390.7 263.6 L389.7 269.4 L393.7 265.1 L392.4 265.1Z" fill="#fee1d3"/><path d="M376.3 149.4 L377.8 149.6 L373.6 143.9 L374.0 151.0 L375.0 149.9Z" fill="#fee0d3"/><path d="M376.5 182.1 L377.9 182.7 L375.1 176.1 L373.9 183.1 L375.1 182.3Z" fill="#fee0d2"/><path d="M375.1 232.4 L373.9 231.6 L375.1 238.6 L377.9 232.0 L376.5 232.6Z" fill="#fee0d2"/><path d="M311.4 198.5 L312.8 199.3 L311.1 192.2 L308.6 199.1 L310.0 198.5Z" fill="#feded0"/><path d="M310.0 216.2 L308.6 215.6 L311.1 222.5 L312.8 215.4 L311.4 216.2Z" fill="#feded0"/><path d="M376.5 165.7 L378.0 166.1 L374.4 159.6 L373.8 167.1 L375.0 166.0Z" fill="#fedccd"/><path d="M375.0 248.7 L373.8 247.6 L374.4 255.1 L378.0 248.6 L376.5 249.0Z" fill="#fedccd"/><path d="M343.5 133.0 L345.1 132.8 L339.3 128.0 L341.5 135.2 L342.3 133.8Z" fill="#fedccd"/><path d="M310.5 328.7 L311.9 328.0 L305.2 325.6 L309.5 331.2 L309.8 329.8Z" fill="#fed9c8"/><path d="M261.1 68.8 L260.8 67.7 L258.3 72.3 L262.9 69.8 L261.8 69.5Z" fill="#fed9c8"/><path d="M360.1 149.3 L361.8 149.5 L357.0 142.9 L357.4 151.1 L358.6 149.8Z" fill="#fdd5c3"/><path d="M360.3 182.0 L361.9 182.6 L358.7 175.1 L357.3 183.2 L358.7 182.2Z" fill="#fdd4c2"/><path d="M358.7 232.5 L357.3 231.5 L358.7 239.6 L361.9 232.1 L360.3 232.7Z" fill="#fdd4c2"/><path d="M295.3 198.4 L296.8 199.3 L294.9 191.2 L292.0 199.0 L293.7 198.3Z" fill="#fdd3c0"/><path d="M293.7 216.4 L292.0 215.7 L294.9 223.5 L296.8 215.3 L295.3 216.2Z" fill="#fdd3c0"/><path d="M360.2 165.6 L362.0 166.1 L357.9 158.5 L357.2 167.1 L358.6 166.0Z" fill="#fdd0bd"/><path d="M358.6 248.7 L357.2 247.6 L357.9 256.2 L362.0 248.6 L360.2 249.1Z" fill="#fdd0bd"/><path d="M309.8 85.0 L309.4 83.6 L305.7 89.3 L312.0 86.6 L310.6 86.0Z" fill="#fdd0bc"/><path d="M375.0 264.7 L374.1 263.5 L372.9 270.4 L377.7 265.3 L376.2 265.3Z" fill="#fdd0bc"/><path d="M342.2 296.9 L341.9 295.1 L337.1 301.7 L344.7 298.9 L343.2 298.1Z" fill="#fdcab5"/><path d="M309.9 101.1 L309.9 99.7 L305.1 104.2 L311.5 103.1 L310.4 102.2Z" fill="#fdcab5"/><path d="M279.1 198.3 L280.8 199.3 L278.6 190.2 L275.4 199.0 L277.3 198.2Z" fill="#fdcab4"/><path d="M277.3 216.5 L275.4 215.7 L278.6 224.5 L280.8 215.3 L279.1 216.3Z" fill="#fdcab4"/><path d="M343.9 149.1 L345.9 149.4 L340.3 141.8 L340.8 151.2 L342.1 149.8Z" fill="#fdcab4"/><path d="M327.2 132.8 L329.2 132.5 L322.0 126.5 L324.8 135.5 L325.8 133.8Z" fill="#fdcab4"/><path d="M344.1 181.9 L346.0 182.6 L342.3 173.9 L340.6 183.2 L342.3 182.1Z" fill="#fdc9b4"/><path d="M342.3 232.6 L340.6 231.5 L342.3 240.8 L346.0 232.1 L344.1 232.8Z" fill="#fdc9b4"/><path d="M344.0 165.5 L346.1 166.0 L341.3 157.3 L340.5 167.2 L342.2 165.9Z" fill="#fdc5af"/><path d="M342.2 248.8 L340.5 247.5 L341.3 257.4 L346.1 248.7 L344.0 249.2Z" fill="#fdc5af"/><path d="M310.2 312.3 L311.4 311.0 L303.1 310.9 L310.0 315.6 L309.7 313.8Z" fill="#fcc4ad"/><path d="M262.2 344.8 L264.1 344.7 L257.8 338.4 L259.6 347.1 L260.7 345.5Z" fill="#fcc4ad"/><path d="M358.6 264.7 L357.5 263.3 L356.1 271.4 L361.7 265.4 L359.9 265.4Z" fill="#fcc4ad"/><path d="M262.9 198.2 L264.8 199.3 L262.3 189.2 L258.8 199.0 L260.9 198.1Z" fill="#fcc1a9"/><path d="M260.9 216.6 L258.8 215.7 L262.3 225.5 L264.8 215.3 L262.9 216.4Z" fill="#fcc1a9"/><path d="M293.8 116.4 L295.4 114.7 L284.5 114.3 L293.4 120.7 L293.1 118.3Z" fill="#fcbda4"/><path d="M327.9 181.7 L330.1 182.5 L325.6 172.5 L323.9 183.3 L325.8 182.0Z" fill="#fcbda4"/><path d="M325.8 232.7 L323.9 231.4 L325.6 242.2 L330.1 232.2 L327.9 233.0Z" fill="#fcbda4"/><path d="M342.3 280.6 L341.9 279.1 L337.8 285.4 L344.7 282.3 L343.2 281.7Z" fill="#fcbba1"/><path d="M328.0 149.9 L327.3 148.2 L329.6 148.4 L322.8 139.8 L323.8 150.7 L325.3 149.0 L326.0 150.7Z" fill="#fcb79c"/><path d="M342.0 264.7 L340.8 263.0 L338.5 272.7 L345.8 265.8 L343.6 265.7Z" fill="#fcb499"/><path d="M244.5 69.0 L243.7 67.5 L241.3 74.8 L247.3 70.1 L245.7 69.8Z" fill="#fcb499"/><path d="M328.0 166.3 L327.5 164.2 L329.8 164.7 L324.2 155.3 L323.7 166.2 L325.5 164.7 L326.0 166.9Z" fill="#fcb499"/><path d="M326.0 247.8 L325.5 250.0 L323.7 248.5 L324.2 259.4 L329.8 250.0 L327.5 250.5 L328.0 248.4Z" fill="#fcb499"/><path d="M311.6 133.4 L310.4 131.6 L312.7 131.3 L304.5 124.1 L307.4 134.7 L308.6 132.7 L309.8 134.6Z" fill="#fcb499"/><path d="M246.5 199.2 L246.7 196.7 L248.7 197.8 L246.0 187.2 L242.4 197.6 L244.6 196.6 L244.5 199.2Z" fill="#fcb196"/><path d="M244.5 215.5 L244.6 218.1 L242.4 217.1 L246.0 227.5 L248.7 216.9 L246.7 218.0 L246.5 215.5Z" fill="#fcb196"/><path d="M325.7 264.7 L324.5 263.0 L322.2 272.7 L329.5 265.8 L327.3 265.7Z" fill="#fcab8e"/><path d="M325.6 280.8 L324.8 278.6 L320.1 288.2 L329.2 282.8 L327.1 282.1Z" fill="#fcab8e"/><path d="M325.7 296.8 L325.4 294.7 L319.4 302.4 L328.6 299.3 L326.8 298.3Z" fill="#fcab8e"/><path d="M293.3 101.2 L293.1 99.5 L288.0 105.6 L295.7 103.3 L294.2 102.5Z" fill="#fcab8e"/><path d="M294.8 312.3 L293.8 311.9 L295.5 310.4 L284.6 309.5 L293.3 316.2 L293.0 313.9 L294.0 314.3Z" fill="#fcab8e"/><path d="M293.3 85.2 L292.5 83.6 L289.4 91.5 L296.3 86.6 L294.5 86.2Z" fill="#fcab8e"/><path d="M294.3 328.3 L296.2 327.5 L287.4 323.6 L292.6 331.7 L293.1 329.7Z" fill="#fcab8e"/><path d="M230.2 199.2 L230.4 195.7 L232.4 196.8 L229.7 186.2 L226.1 196.6 L228.3 195.6 L228.2 199.2Z" fill="#fca78a"/><path d="M228.2 215.5 L228.3 219.1 L226.1 218.1 L229.7 228.5 L232.4 217.9 L230.4 219.0 L230.2 215.5Z" fill="#fca78a"/><path d="M246.1 344.5 L248.4 344.7 L241.5 336.3 L242.6 347.1 L244.1 345.3Z" fill="#fca487"/><path d="M311.7 182.8 L311.3 178.9 L313.5 179.7 L309.3 169.6 L307.3 180.4 L309.2 179.1 L309.7 183.0Z" fill="#fca486"/><path d="M214.0 199.2 L214.0 194.6 L216.1 195.7 L212.9 185.2 L209.8 195.7 L211.9 194.6 L211.9 199.2Z" fill="#fc9d7f"/><path d="M211.9 215.5 L211.9 220.1 L209.8 219.0 L212.9 229.5 L216.1 219.0 L214.0 220.1 L214.0 215.5Z" fill="#fc9d7f"/><path d="M311.7 149.9 L310.1 145.5 L312.4 145.8 L305.9 137.0 L306.5 147.9 L308.1 146.2 L309.7 150.7Z" fill="#fc9c7d"/><path d="M295.2 133.4 L292.4 129.6 L294.7 129.2 L285.9 122.7 L289.7 133.0 L290.7 130.9 L293.6 134.6Z" fill="#fc9c7d"/><path d="M310.1 296.1 L307.3 298.2 L306.9 295.8 L300.2 304.5 L310.6 301.0 L308.5 299.9 L311.3 297.9Z" fill="#fc9a7b"/><path d="M311.7 166.4 L310.5 161.4 L312.8 162.0 L307.3 152.5 L306.7 163.4 L308.5 161.9 L309.7 166.8Z" fill="#fc9879"/><path d="M276.8 85.4 L275.8 83.6 L273.1 92.9 L280.4 86.6 L278.4 86.4Z" fill="#fc9778"/><path d="M227.9 69.2 L226.6 67.5 L225.0 77.3 L231.8 70.1 L229.6 70.1Z" fill="#fc9778"/><path d="M197.7 199.2 L197.7 193.6 L199.8 194.7 L196.6 184.2 L193.5 194.7 L195.6 193.6 L195.6 199.2Z" fill="#fc9272"/><path d="M195.6 215.5 L195.6 221.1 L193.5 220.0 L196.6 230.5 L199.8 220.0 L197.7 221.1 L197.7 215.5Z" fill="#fc9272"/><path d="M309.7 231.7 L309.0 236.3 L307.1 235.0 L308.7 245.8 L313.3 235.9 L311.1 236.6 L311.7 231.9Z" fill="#fc9070"/><path d="M293.7 296.2 L289.9 299.2 L289.5 296.9 L283.2 305.9 L293.4 301.8 L291.3 300.8 L295.1 297.8Z" fill="#fc9070"/><path d="M230.2 345.5 L229.4 343.4 L231.7 343.7 L225.2 334.9 L225.8 345.8 L227.4 344.1 L228.2 346.3Z" fill="#fc9070"/><path d="M181.4 199.2 L181.4 192.6 L183.5 193.7 L180.3 183.2 L177.2 193.7 L179.2 192.6 L179.2 199.2Z" fill="#fc8767"/><path d="M179.2 215.5 L179.2 222.1 L177.2 221.0 L180.3 231.5 L183.5 221.0 L181.4 222.1 L181.4 215.5Z" fill="#fc8767"/><path d="M295.4 182.8 L294.9 176.2 L297.1 177.1 L293.0 166.9 L290.8 177.6 L292.8 176.4 L293.4 183.0Z" fill="#fc8666"/><path d="M309.9 280.0 L307.1 283.2 L306.2 281.0 L301.7 291.0 L311.0 285.2 L308.7 284.6 L311.5 281.4Z" fill="#fc8464"/><path d="M260.3 85.3 L259.2 83.3 L255.8 93.6 L264.4 86.9 L262.1 86.5Z" fill="#fc8464"/><path d="M309.7 247.7 L307.4 254.2 L305.8 252.6 L305.2 263.5 L311.7 254.7 L309.4 255.0 L311.7 248.5Z" fill="#fc8363"/><path d="M279.1 182.8 L278.3 176.0 L280.5 176.7 L276.1 166.7 L274.3 177.5 L276.2 176.2 L277.1 183.0Z" fill="#fb7a5a"/><path d="M293.4 231.6 L292.2 239.3 L290.3 238.0 L291.9 248.8 L296.5 238.9 L294.3 239.6 L295.4 232.0Z" fill="#fb7a5a"/><path d="M309.8 263.9 L306.5 270.2 L305.1 268.3 L303.1 279.1 L310.7 271.2 L308.4 271.2 L311.6 264.9Z" fill="#fb7a5a"/><path d="M295.4 166.3 L293.5 158.5 L295.8 159.0 L290.2 149.6 L289.7 160.5 L291.4 159.0 L293.4 166.9Z" fill="#fb7555"/><path d="M295.4 149.9 L292.1 142.4 L294.5 142.6 L287.4 134.2 L288.7 145.1 L290.2 143.3 L293.4 150.7Z" fill="#fb7454"/><path d="M262.8 182.7 L261.5 174.6 L263.8 175.3 L259.0 165.4 L257.5 176.3 L259.5 174.9 L260.8 183.1Z" fill="#fb6a4a"/><path d="M277.3 280.1 L270.4 289.2 L269.3 287.1 L265.5 297.4 L274.3 290.9 L272.0 290.5 L278.9 281.3Z" fill="#fb6a4a"/><path d="M293.5 280.1 L288.4 287.6 L287.2 285.6 L283.9 296.0 L292.4 289.1 L290.1 288.8 L295.3 281.3Z" fill="#fb6a4a"/><path d="M165.0 199.2 L164.8 190.2 L166.9 191.2 L163.5 180.8 L160.6 191.4 L162.7 190.3 L163.0 199.2Z" fill="#fb6a4a"/><path d="M163.0 215.5 L162.7 224.4 L160.6 223.3 L163.5 233.9 L166.9 223.5 L164.8 224.5 L165.0 215.5Z" fill="#fb6a4a"/><path d="M293.4 247.8 L290.3 257.0 L288.6 255.3 L288.2 266.3 L294.6 257.4 L292.2 257.7 L295.4 248.4Z" fill="#f96044"/><path d="M277.1 231.6 L275.2 241.7 L273.4 240.3 L274.6 251.2 L279.6 241.4 L277.3 242.1 L279.1 232.0Z" fill="#f6573e"/><path d="M293.5 263.9 L288.8 273.0 L287.4 271.1 L285.4 281.9 L293.0 274.0 L290.7 274.0 L295.3 264.9Z" fill="#f6573e"/><path d="M278.9 133.3 L273.1 126.4 L275.4 125.8 L266.2 119.8 L270.5 129.9 L271.5 127.7 L277.3 134.7Z" fill="#f34c37"/><path d="M148.7 199.1 L147.9 187.3 L150.1 188.2 L146.2 177.9 L143.8 188.6 L145.8 187.4 L146.7 199.3Z" fill="#f34935"/><path d="M146.7 215.4 L145.8 227.3 L143.8 226.1 L146.2 236.8 L150.1 226.5 L147.9 227.4 L148.7 215.6Z" fill="#f34935"/><path d="M279.0 149.8 L274.4 140.7 L276.7 140.7 L269.1 132.8 L271.1 143.6 L272.5 141.7 L277.2 150.8Z" fill="#f14432"/><path d="M279.1 166.3 L275.7 155.5 L278.0 155.9 L271.9 146.8 L272.0 157.8 L273.7 156.1 L277.1 166.9Z" fill="#ef3d2d"/><path d="M277.2 263.9 L271.3 274.6 L269.9 272.7 L267.6 283.4 L275.4 275.7 L273.1 275.6 L279.0 264.9Z" fill="#ef3d2d"/><path d="M277.1 247.7 L272.3 259.9 L270.7 258.2 L269.8 269.1 L276.6 260.5 L274.3 260.7 L279.1 248.5Z" fill="#e83429"/><path d="M260.8 231.6 L258.7 244.5 L256.8 243.1 L258.3 254.0 L263.0 244.1 L260.8 244.8 L262.8 232.0Z" fill="#df2c25"/><path d="M132.4 199.0 L129.9 182.6 L132.1 183.3 L127.4 173.4 L125.9 184.3 L127.8 182.9 L130.4 199.4Z" fill="#d92523"/><path d="M130.4 215.3 L127.8 231.8 L125.9 230.4 L127.4 241.3 L132.1 231.4 L129.9 232.1 L132.4 215.7Z" fill="#d92523"/><path d="M262.8 166.3 L259.4 152.9 L261.7 153.4 L256.1 144.0 L255.6 155.0 L257.4 153.4 L260.8 166.9Z" fill="#d42021"/><path d="M260.8 247.7 L255.3 262.1 L253.7 260.4 L252.9 271.3 L259.6 262.6 L257.3 262.9 L262.8 248.5Z" fill="#cb181d"/><path d="M262.7 149.8 L255.8 136.4 L258.1 136.4 L250.5 128.5 L252.5 139.3 L253.9 137.4 L260.9 150.8Z" fill="#cb181d"/><path d="M116.1 198.9 L110.7 179.2 L113.0 179.7 L107.2 170.4 L106.9 181.4 L108.7 179.8 L114.1 199.5Z" fill="#c3161b"/><path d="M114.1 215.2 L108.7 234.9 L106.9 233.3 L107.2 244.3 L113.0 235.0 L110.7 235.5 L116.1 215.8Z" fill="#c3161b"/><path d="M246.5 182.8 L245.3 172.9 L247.5 173.7 L243.0 163.7 L241.2 174.5 L243.2 173.2 L244.5 183.0Z" fill="#bc141a"/><path d="M244.5 231.7 L242.7 245.3 L240.7 244.0 L242.5 254.8 L247.0 244.8 L244.8 245.6 L246.5 231.9Z" fill="#bc141a"/><path d="M260.9 263.9 L253.4 278.7 L252.0 276.8 L250.1 287.6 L257.6 279.6 L255.3 279.6 L262.7 264.9Z" fill="#bc141a"/><path d="M230.2 182.8 L228.7 169.0 L230.9 169.8 L226.6 159.7 L224.6 170.5 L226.6 169.2 L228.2 183.0Z" fill="#aa1016"/><path d="M228.2 231.7 L226.3 247.3 L224.3 246.0 L226.2 256.8 L230.6 246.8 L228.4 247.5 L230.2 231.9Z" fill="#aa1016"/><path d="M246.5 166.3 L239.9 146.7 L242.2 147.0 L235.9 138.1 L236.3 149.1 L237.9 147.4 L244.5 166.9Z" fill="#aa1016"/><path d="M244.5 247.7 L237.0 267.0 L235.4 265.3 L234.5 276.2 L241.3 267.6 L238.9 267.8 L246.5 248.5Z" fill="#aa1016"/><path d="M213.9 182.8 L211.9 164.1 L214.1 164.9 L209.9 154.8 L207.9 165.6 L209.9 164.3 L211.9 183.0Z" fill="#a50f15"/><path d="M211.9 231.7 L209.8 251.0 L207.9 249.7 L209.9 260.5 L214.1 250.4 L211.9 251.2 L213.9 231.9Z" fill="#a30e15"/><path d="M67.2 198.8 L53.8 164.1 L56.1 164.4 L49.4 155.7 L50.2 166.6 L51.8 164.9 L65.2 199.6Z" fill="#940b13"/><path d="M65.2 215.2 L53.7 250.1 L52.1 248.4 L51.8 259.4 L58.1 250.4 L55.7 250.7 L67.2 215.8Z" fill="#940b13"/><path d="M83.5 198.9 L75.0 167.1 L77.3 167.5 L71.6 158.2 L71.3 169.2 L73.0 167.6 L81.5 199.5Z" fill="#940b13"/><path d="M81.5 215.3 L75.0 247.1 L73.1 245.7 L74.1 256.6 L79.3 246.9 L77.0 247.6 L83.5 215.7Z" fill="#940b13"/><path d="M99.8 198.9 L92.2 174.7 L94.5 175.1 L88.4 166.0 L88.5 177.0 L90.2 175.3 L97.8 199.5Z" fill="#940b13"/><path d="M97.8 215.2 L91.1 242.1 L89.3 240.5 L89.8 251.5 L95.4 242.1 L93.1 242.6 L99.8 215.8Z" fill="#940b13"/><path d="M116.1 182.5 L100.2 147.7 L102.5 147.7 L95.3 139.5 L96.8 150.4 L98.3 148.5 L114.1 183.3Z" fill="#940b13"/><path d="M114.1 231.4 L100.1 265.9 L98.5 264.1 L97.5 275.0 L104.4 266.5 L102.0 266.6 L116.1 232.2Z" fill="#940b13"/><path d="M132.4 182.6 L122.3 149.2 L124.6 149.6 L118.5 140.5 L118.5 151.5 L120.2 149.8 L130.4 183.2Z" fill="#940b13"/><path d="M130.4 231.6 L122.6 264.2 L120.8 262.7 L121.4 273.6 L126.9 264.1 L124.6 264.7 L132.4 232.0Z" fill="#940b13"/><path d="M148.7 182.7 L141.9 151.5 L144.1 152.1 L138.8 142.5 L138.0 153.4 L139.8 152.0 L146.7 183.1Z" fill="#940b13"/><path d="M146.7 231.6 L140.8 263.5 L138.9 262.1 L140.1 273.0 L145.1 263.2 L142.8 263.9 L148.7 232.0Z" fill="#940b13"/><path d="M165.0 182.8 L160.9 153.2 L163.1 154.0 L158.5 144.0 L156.9 154.8 L158.8 153.5 L163.0 183.0Z" fill="#940b13"/><path d="M163.0 231.7 L158.7 261.3 L156.8 260.0 L158.4 270.8 L163.0 260.9 L160.8 261.6 L165.0 231.9Z" fill="#940b13"/><path d="M181.3 182.8 L178.0 154.8 L180.2 155.5 L175.8 145.5 L173.9 156.3 L175.9 155.0 L179.3 183.0Z" fill="#940b13"/><path d="M179.3 231.7 L175.7 260.4 L173.8 259.1 L175.6 269.9 L180.0 259.9 L177.8 260.6 L181.3 231.9Z" fill="#940b13"/><path d="M197.6 182.8 L195.1 156.2 L197.3 157.1 L193.2 146.9 L191.1 157.6 L193.0 156.4 L195.6 183.0Z" fill="#940b13"/><path d="M195.6 231.7 L192.4 258.4 L190.4 257.1 L192.3 267.9 L196.7 257.8 L194.5 258.6 L197.6 231.9Z" fill="#940b13"/><path d="M213.9 166.3 L205.7 140.5 L208.1 140.9 L201.9 131.8 L202.1 142.8 L203.7 141.1 L211.9 166.9Z" fill="#940b13"/><path d="M211.9 247.8 L203.2 273.3 L201.6 271.6 L201.2 282.6 L207.6 273.7 L205.2 274.0 L213.9 248.4Z" fill="#940b13"/><path d="M230.2 166.3 L222.3 143.9 L224.7 144.2 L218.2 135.3 L218.7 146.3 L220.3 144.6 L228.2 166.9Z" fill="#940b13"/><path d="M228.2 247.7 L220.4 269.8 L218.7 268.2 L218.2 279.1 L224.7 270.3 L222.3 270.5 L230.2 248.5Z" fill="#940b13"/></g>
<text x="674.2" y="82.5" font-size="31.7" font-weight="normal" text-anchor="start" >Odor vel. direction estimate (deg)</text>
<text x="924.5" y="408" font-size="31.6" font-weight="normal" text-anchor="middle" >Time (s)</text>
<text x="816.3" y="368.6" font-size="31.3" font-weight="normal" text-anchor="middle" >0</text>
<text x="879.8" y="368.6" font-size="31.3" font-weight="normal" text-anchor="middle" >2</text>
<text x="943.3" y="368.6" font-size="31.3" font-weight="normal" text-anchor="middle" >4</text>
<text x="1006.8" y="368.6" font-size="31.3" font-weight="normal" text-anchor="middle" >6</text>
<text x="784" y="147.5" font-size="31.3" font-weight="normal" text-anchor="end" >90</text>
<text x="784" y="237.8" font-size="31.3" font-weight="normal" text-anchor="end" >0</text>
<text x="784" y="327.4" font-size="31.3" font-weight="normal" text-anchor="end" >-90</text>
<clipPath id="pb"><rect x="801.4" y="118" width="225" height="211.2"/></clipPath>
<g clip-path="url(#pb)" stroke-linejoin="round">
<polygon points="815.3,228.0 820.5,200.0 820.5,173.0 827.0,173.0 828.5,200.0 830.0,235.0 834.0,250.0 850.0,254.0 860.0,255.0 870.0,255.0 876.0,256.0 886.7,259.3 897.6,257.2 908.4,261.5 919.3,265.3 924.7,263.7 941.0,262.6 962.7,263.1 984.3,265.8 1006.0,267.0 1007.5,267.0 1007.5,280.5 984.3,282.1 962.7,283.7 941.0,285.4 924.7,286.4 908.4,287.5 897.6,289.7 886.7,289.7 876.0,291.9 867.2,290.8 865.0,295.1 854.2,295.7 845.5,296.2 843.4,298.4 835.0,302.0 828.0,310.0 822.0,320.0 819.0,330.0 815.3,330.0" fill="#7a62b8" fill-opacity="0.29" stroke="#7a62b8" stroke-opacity="0.45" stroke-width="1.8"/>
<polygon points="815.3,122.5 818.5,122.5 820.0,150.0 821.7,164.1 824.0,158.0 826.0,153.3 829.0,157.0 832.5,158.7 835.0,156.0 838.0,154.3 842.0,157.0 845.5,158.7 850.0,160.0 854.2,160.8 857.0,159.0 860.7,157.6 866.0,156.0 870.5,155.4 871.5,160.0 872.7,163.0 877.0,160.5 881.3,158.7 883.0,163.0 884.6,167.3 890.0,168.0 895.4,168.4 897.6,171.7 903.0,172.5 908.4,173.3 914.0,174.3 919.3,174.9 920.4,173.3 935.0,173.5 951.8,173.9 960.0,174.8 968.1,175.5 985.0,175.2 1003.9,174.9 1007.5,174.9 1007.5,205.0 1006.0,205.1 995.2,204.5 984.3,206.1 973.0,207.3 962.7,208.3 951.8,209.4 941.0,208.3 935.0,210.0 930.0,211.0 924.7,210.0 921.0,213.0 917.0,214.8 908.4,217.0 897.6,218.6 892.2,221.9 886.0,224.0 880.0,228.0 875.0,236.0 870.0,244.0 862.0,248.0 857.0,252.0 855.5,270.0 851.0,270.0 848.0,255.0 840.0,256.0 832.0,258.0 826.0,262.0 822.0,275.0 819.5,300.0 818.0,331.0 815.3,331.0" fill="#2c9a4d" fill-opacity="0.29" stroke="#2c9a4d" stroke-opacity="0.45" stroke-width="1.8"/>
<polygon points="815.3,228.0 818.0,214.0 822.0,212.0 829.0,222.0 840.0,224.0 858.0,220.0 862.0,215.0 880.0,217.0 892.0,222.0 897.0,228.0 915.0,231.0 960.0,231.5 1007.5,231.4 1007.5,245.0 941.0,248.2 919.3,251.0 908.4,252.5 897.6,254.7 886.7,256.9 875.0,260.0 865.0,266.0 855.0,275.0 845.0,288.0 840.0,301.0 831.5,311.7 826.0,320.0 824.0,329.0 815.3,329.0" fill="#68aedc" fill-opacity="0.29" stroke="#68aedc" stroke-opacity="0.45" stroke-width="1.8"/>
<rect x="815" y="122" width="4.6" height="60" fill="#2c9a4d" fill-opacity="0.28"/>
<polygon points="815.3,300 815.3,262 817.5,246 822,235.5 827.5,233.5 830,240 830.5,258 829,266 823,270 819.8,284 819.8,300" fill="#7a62b8"/>
<polyline points="816.5,300.0 816.8,280.0 817.0,262.0 820.0,248.0 823.0,240.0 826.0,237.0 828.0,250.0 830.9,265.8 834.7,270.2 839.0,274.5 843.4,276.7 854.2,277.2 860.7,276.7 865.0,273.4 869.4,270.2 876.0,272.9 886.7,273.9 895.4,272.3 908.4,274.5 919.3,275.0 941.0,274.5 962.7,273.4 984.3,274.0 1009.3,274.0" fill="none" stroke="#7a62b8" stroke-width="6.2" stroke-linecap="butt"/>
<polyline points="816.3,183.0 817.0,190.0 817.9,194.8 824.9,198.0 827.7,202.3 828.7,211.0 832.5,210.0 835.8,207.2 842.3,202.9 845.5,205.0 848.8,208.3 851.0,214.8 854.2,214.3 855.3,207.8 860.7,201.3 867.2,201.3 871.6,198.6 883.5,194.2 890.0,195.8 895.4,196.9 908.4,195.3 924.7,192.0 935.5,192.0 945.3,190.4 962.7,191.0 984.3,190.4 995.2,189.3 1008.2,189.6" fill="none" stroke="#2c9a4d" stroke-width="6.2" stroke-linecap="butt"/>
<polyline points="818.5,293.0 819.5,278.0 821.7,263.4 827.0,260.0 832.5,258.0 843.4,256.9 848.8,253.6 854.2,250.4 857.5,245.0 860.7,239.0 865.0,237.3 872.0,237.8 880.2,236.8 888.9,240.6 895.4,239.0 903.0,240.3 908.4,240.1 925.0,238.5 941.0,237.9 962.0,237.4 984.3,236.8 1009.3,237.3" fill="none" stroke="#68aedc" stroke-width="6.2" stroke-linecap="butt"/>
</g>
<path d="M800.2 121 V330.6 H1024" fill="none" stroke="#000" stroke-width="2.4"/>
<path d="M816.5 330.6 V317" stroke="#000" stroke-width="2.4"/>
<path d="M848.2 330.6 V317" stroke="#000" stroke-width="2.4"/>
<path d="M879.9 330.6 V317" stroke="#000" stroke-width="2.4"/>
<path d="M911.7 330.6 V317" stroke="#000" stroke-width="2.4"/>
<path d="M943.4 330.6 V317" stroke="#000" stroke-width="2.4"/>
<path d="M975.1 330.6 V317" stroke="#000" stroke-width="2.4"/>
<path d="M1006.8 330.6 V317" stroke="#000" stroke-width="2.4"/>
<path d="M800.2 136.3 H814.5" stroke="#000" stroke-width="2.4"/>
<path d="M800.2 181.2 H814.5" stroke="#000" stroke-width="2.4"/>
<path d="M800.2 226.2 H814.5" stroke="#000" stroke-width="2.4"/>
<path d="M800.2 271.0 H814.5" stroke="#000" stroke-width="2.4"/>
<path d="M800.2 315.8 H814.5" stroke="#000" stroke-width="2.4"/>
<path d="M800.9 226.2 H1022.3" stroke="#000" stroke-width="4.6" stroke-dasharray="16 8"/>
<circle cx="832" cy="136.7" r="13.2" fill="#7a62b8"/>
<circle cx="883" cy="136.7" r="13.2" fill="#2c9a4d"/>
<circle cx="923.6" cy="136.7" r="13.2" fill="#68aedc"/>
<text x="1252.6" y="86" font-size="31.75" font-weight="normal" text-anchor="start" word-spacing="-0.4">Time to resolve to 1 SD from downwind (<tspan font-style="italic">θ</tspan> = 0<tspan font-size="20" dy="-10">o</tspan><tspan dy="10">)</tspan></text>
<text x="1255.8" y="137.2" font-size="31.6" font-weight="normal" text-anchor="start" >odor velocity</text>
<text x="1649" y="137.2" font-size="31.6" font-weight="normal" text-anchor="start" >gradient</text>
<text x="1222.5" y="333" font-size="31.6" font-weight="normal" text-anchor="start" >y</text>
<text x="1259" y="369.6" font-size="31.6" font-weight="normal" text-anchor="start" >x</text>
<g shape-rendering="crispEdges"><rect x="1249.90" y="153.20" width="336.75" height="188.58" fill="#050000"/><rect x="1429.50" y="153.20" width="9.28" height="9.28" fill="#330000"/><rect x="1438.48" y="153.20" width="22.75" height="9.28" fill="#fa7a00"/><rect x="1460.93" y="153.20" width="9.28" height="9.28" fill="#570000"/><rect x="1469.91" y="153.20" width="13.77" height="9.28" fill="#ff9e1f"/><rect x="1483.38" y="153.20" width="9.28" height="9.28" fill="#800000"/><rect x="1492.36" y="153.20" width="9.28" height="9.28" fill="#bd3d00"/><rect x="1514.81" y="153.20" width="18.26" height="9.28" fill="#fa7a00"/><rect x="1532.77" y="153.20" width="13.77" height="9.28" fill="#db5c00"/><rect x="1555.22" y="153.20" width="9.28" height="9.28" fill="#ffeb6b"/><rect x="1577.67" y="153.20" width="9.28" height="9.28" fill="#fa7a00"/><rect x="1429.50" y="162.18" width="9.28" height="13.77" fill="#330000"/><rect x="1438.48" y="162.18" width="13.77" height="13.77" fill="#bd3d00"/><rect x="1451.95" y="162.18" width="9.28" height="13.77" fill="#fa7a00"/><rect x="1460.93" y="162.18" width="9.28" height="13.77" fill="#ffffb8"/><rect x="1469.91" y="162.18" width="13.77" height="13.77" fill="#fa7a00"/><rect x="1483.38" y="162.18" width="18.26" height="13.77" fill="#db5c00"/><rect x="1501.34" y="162.18" width="13.77" height="13.77" fill="#fa7a00"/><rect x="1514.81" y="162.18" width="18.26" height="13.77" fill="#bd3d00"/><rect x="1532.77" y="162.18" width="22.75" height="13.77" fill="#fa7a00"/><rect x="1555.22" y="162.18" width="9.28" height="13.77" fill="#ffeb6b"/><rect x="1564.20" y="162.18" width="22.75" height="13.77" fill="#ff9e1f"/><rect x="1429.50" y="175.65" width="9.28" height="9.28" fill="#db5c00"/><rect x="1438.48" y="175.65" width="22.75" height="9.28" fill="#fa7a00"/><rect x="1460.93" y="175.65" width="9.28" height="9.28" fill="#ffffb8"/><rect x="1469.91" y="175.65" width="13.77" height="9.28" fill="#fa7a00"/><rect x="1483.38" y="175.65" width="9.28" height="9.28" fill="#ffffb8"/><rect x="1492.36" y="175.65" width="22.75" height="9.28" fill="#ffeb6b"/><rect x="1514.81" y="175.65" width="18.26" height="9.28" fill="#ffc242"/><rect x="1532.77" y="175.65" width="13.77" height="9.28" fill="#ffeb6b"/><rect x="1546.24" y="175.65" width="18.26" height="9.28" fill="#fa7a00"/><rect x="1564.20" y="175.65" width="22.75" height="9.28" fill="#bd3d00"/><rect x="1416.03" y="184.63" width="13.77" height="9.28" fill="#fa7a00"/><rect x="1429.50" y="184.63" width="9.28" height="9.28" fill="#ff9e1f"/><rect x="1438.48" y="184.63" width="13.77" height="9.28" fill="#fa7a00"/><rect x="1451.95" y="184.63" width="9.28" height="9.28" fill="#ff9e1f"/><rect x="1460.93" y="184.63" width="31.73" height="9.28" fill="#db5c00"/><rect x="1492.36" y="184.63" width="9.28" height="9.28" fill="#ffff94"/><rect x="1501.34" y="184.63" width="22.75" height="9.28" fill="#ffeb6b"/><rect x="1523.79" y="184.63" width="9.28" height="9.28" fill="#fa7a00"/><rect x="1532.77" y="184.63" width="13.77" height="9.28" fill="#ffeb6b"/><rect x="1546.24" y="184.63" width="18.26" height="9.28" fill="#db5c00"/><rect x="1564.20" y="184.63" width="13.77" height="9.28" fill="#bd3d00"/><rect x="1577.67" y="184.63" width="9.28" height="9.28" fill="#9e1f00"/><rect x="1407.05" y="193.61" width="9.28" height="13.77" fill="#ff9e1f"/><rect x="1416.03" y="193.61" width="67.65" height="13.77" fill="#fa7a00"/><rect x="1483.38" y="193.61" width="9.28" height="13.77" fill="#9e1f00"/><rect x="1492.36" y="193.61" width="9.28" height="13.77" fill="#db5c00"/><rect x="1501.34" y="193.61" width="13.77" height="13.77" fill="#800000"/><rect x="1514.81" y="193.61" width="63.16" height="13.77" fill="#9e1f00"/><rect x="1577.67" y="193.61" width="9.28" height="13.77" fill="#ff9e1f"/><rect x="1398.07" y="207.08" width="9.28" height="9.28" fill="#570000"/><rect x="1407.05" y="207.08" width="9.28" height="9.28" fill="#800000"/><rect x="1416.03" y="207.08" width="36.22" height="9.28" fill="#fa7a00"/><rect x="1451.95" y="207.08" width="49.69" height="9.28" fill="#9e1f00"/><rect x="1501.34" y="207.08" width="13.77" height="9.28" fill="#bd3d00"/><rect x="1514.81" y="207.08" width="9.28" height="9.28" fill="#ffeb6b"/><rect x="1523.79" y="207.08" width="31.73" height="9.28" fill="#800000"/><rect x="1555.22" y="207.08" width="9.28" height="9.28" fill="#1a0000"/><rect x="1375.62" y="216.06" width="9.28" height="9.28" fill="#330000"/><rect x="1546.24" y="216.06" width="18.26" height="9.28" fill="#1a0000"/><rect x="1564.20" y="216.06" width="13.77" height="9.28" fill="#330000"/><rect x="1577.67" y="216.06" width="9.28" height="9.28" fill="#1a0000"/><rect x="1312.76" y="225.04" width="9.28" height="13.77" fill="#1a0000"/><rect x="1321.74" y="225.04" width="13.77" height="13.77" fill="#330000"/><rect x="1335.21" y="225.04" width="18.26" height="13.77" fill="#1a0000"/><rect x="1353.17" y="225.04" width="13.77" height="13.77" fill="#330000"/><rect x="1366.64" y="225.04" width="9.28" height="13.77" fill="#1a0000"/><rect x="1375.62" y="225.04" width="9.28" height="13.77" fill="#570000"/><rect x="1384.60" y="225.04" width="22.75" height="13.77" fill="#330000"/><rect x="1407.05" y="225.04" width="9.28" height="13.77" fill="#9e1f00"/><rect x="1416.03" y="225.04" width="13.77" height="13.77" fill="#330000"/><rect x="1492.36" y="225.04" width="22.75" height="13.77" fill="#1a0000"/><rect x="1577.67" y="225.04" width="9.28" height="13.77" fill="#1a0000"/><rect x="1281.33" y="238.51" width="31.73" height="9.28" fill="#1a0000"/><rect x="1312.76" y="238.51" width="9.28" height="9.28" fill="#800000"/><rect x="1321.74" y="238.51" width="22.75" height="9.28" fill="#570000"/><rect x="1344.19" y="238.51" width="9.28" height="9.28" fill="#330000"/><rect x="1353.17" y="238.51" width="13.77" height="9.28" fill="#570000"/><rect x="1366.64" y="238.51" width="18.26" height="9.28" fill="#800000"/><rect x="1384.60" y="238.51" width="22.75" height="9.28" fill="#570000"/><rect x="1407.05" y="238.51" width="22.75" height="9.28" fill="#1a0000"/><rect x="1451.95" y="238.51" width="18.26" height="9.28" fill="#1a0000"/><rect x="1469.91" y="238.51" width="13.77" height="9.28" fill="#570000"/><rect x="1281.33" y="247.49" width="9.28" height="9.28" fill="#570000"/><rect x="1290.31" y="247.49" width="13.77" height="9.28" fill="#1a0000"/><rect x="1303.78" y="247.49" width="18.26" height="9.28" fill="#800000"/><rect x="1321.74" y="247.49" width="13.77" height="9.28" fill="#570000"/><rect x="1335.21" y="247.49" width="9.28" height="9.28" fill="#1a0000"/><rect x="1375.62" y="247.49" width="9.28" height="9.28" fill="#330000"/><rect x="1384.60" y="247.49" width="13.77" height="9.28" fill="#570000"/><rect x="1398.07" y="247.49" width="18.26" height="9.28" fill="#1a0000"/><rect x="1335.21" y="256.47" width="9.28" height="13.77" fill="#570000"/><rect x="1344.19" y="256.47" width="9.28" height="13.77" fill="#800000"/><rect x="1353.17" y="256.47" width="13.77" height="13.77" fill="#570000"/><rect x="1416.03" y="256.47" width="13.77" height="13.77" fill="#1a0000"/><rect x="1460.93" y="256.47" width="9.28" height="13.77" fill="#800000"/><rect x="1469.91" y="256.47" width="22.75" height="13.77" fill="#1a0000"/><rect x="1492.36" y="256.47" width="31.73" height="13.77" fill="#330000"/><rect x="1523.79" y="256.47" width="9.28" height="13.77" fill="#800000"/><rect x="1532.77" y="256.47" width="13.77" height="13.77" fill="#570000"/><rect x="1546.24" y="256.47" width="9.28" height="13.77" fill="#1a0000"/><rect x="1555.22" y="256.47" width="22.75" height="13.77" fill="#800000"/><rect x="1577.67" y="256.47" width="9.28" height="13.77" fill="#570000"/><rect x="1366.64" y="269.94" width="9.28" height="9.28" fill="#fa7a00"/><rect x="1384.60" y="269.94" width="45.20" height="9.28" fill="#1a0000"/><rect x="1469.91" y="269.94" width="13.77" height="9.28" fill="#800000"/><rect x="1483.38" y="269.94" width="9.28" height="9.28" fill="#9e1f00"/><rect x="1492.36" y="269.94" width="40.71" height="9.28" fill="#800000"/><rect x="1532.77" y="269.94" width="45.20" height="9.28" fill="#9e1f00"/><rect x="1577.67" y="269.94" width="9.28" height="9.28" fill="#db5c00"/><rect x="1384.60" y="278.92" width="13.77" height="9.28" fill="#570000"/><rect x="1398.07" y="278.92" width="9.28" height="9.28" fill="#db5c00"/><rect x="1407.05" y="278.92" width="45.20" height="9.28" fill="#bd3d00"/><rect x="1451.95" y="278.92" width="18.26" height="9.28" fill="#9e1f00"/><rect x="1469.91" y="278.92" width="31.73" height="9.28" fill="#bd3d00"/><rect x="1501.34" y="278.92" width="13.77" height="9.28" fill="#db5c00"/><rect x="1514.81" y="278.92" width="18.26" height="9.28" fill="#9e1f00"/><rect x="1532.77" y="278.92" width="13.77" height="9.28" fill="#ffffb8"/><rect x="1546.24" y="278.92" width="18.26" height="9.28" fill="#bd3d00"/><rect x="1564.20" y="278.92" width="13.77" height="9.28" fill="#fa7a00"/><rect x="1577.67" y="278.92" width="9.28" height="9.28" fill="#db5c00"/><rect x="1416.03" y="287.90" width="13.77" height="13.77" fill="#ffc242"/><rect x="1429.50" y="287.90" width="9.28" height="13.77" fill="#ffeb6b"/><rect x="1438.48" y="287.90" width="13.77" height="13.77" fill="#ff9e1f"/><rect x="1451.95" y="287.90" width="9.28" height="13.77" fill="#bd3d00"/><rect x="1460.93" y="287.90" width="40.71" height="13.77" fill="#fa7a00"/><rect x="1501.34" y="287.90" width="22.75" height="13.77" fill="#db5c00"/><rect x="1523.79" y="287.90" width="31.73" height="13.77" fill="#bd3d00"/><rect x="1555.22" y="287.90" width="9.28" height="13.77" fill="#ffff94"/><rect x="1564.20" y="287.90" width="13.77" height="13.77" fill="#570000"/><rect x="1577.67" y="287.90" width="9.28" height="13.77" fill="#800000"/><rect x="1416.03" y="301.37" width="22.75" height="9.28" fill="#ffeb6b"/><rect x="1438.48" y="301.37" width="13.77" height="9.28" fill="#ff9e1f"/><rect x="1451.95" y="301.37" width="18.26" height="9.28" fill="#ffff94"/><rect x="1469.91" y="301.37" width="22.75" height="9.28" fill="#ffeb6b"/><rect x="1492.36" y="301.37" width="9.28" height="9.28" fill="#ffc242"/><rect x="1501.34" y="301.37" width="22.75" height="9.28" fill="#db5c00"/><rect x="1523.79" y="301.37" width="9.28" height="9.28" fill="#ffc242"/><rect x="1532.77" y="301.37" width="31.73" height="9.28" fill="#bd3d00"/><rect x="1564.20" y="301.37" width="13.77" height="9.28" fill="#ff9e1f"/><rect x="1577.67" y="301.37" width="9.28" height="9.28" fill="#db5c00"/><rect x="1429.50" y="310.35" width="22.75" height="9.28" fill="#fa7a00"/><rect x="1451.95" y="310.35" width="9.28" height="9.28" fill="#ffc242"/><rect x="1460.93" y="310.35" width="22.75" height="9.28" fill="#ffff94"/><rect x="1483.38" y="310.35" width="9.28" height="9.28" fill="#fa7a00"/><rect x="1492.36" y="310.35" width="22.75" height="9.28" fill="#ffeb6b"/><rect x="1514.81" y="310.35" width="72.14" height="9.28" fill="#db5c00"/><rect x="1429.50" y="319.33" width="9.28" height="13.77" fill="#ffff94"/><rect x="1438.48" y="319.33" width="13.77" height="13.77" fill="#db5c00"/><rect x="1451.95" y="319.33" width="9.28" height="13.77" fill="#fa7a00"/><rect x="1460.93" y="319.33" width="9.28" height="13.77" fill="#ffeb6b"/><rect x="1469.91" y="319.33" width="13.77" height="13.77" fill="#ffc242"/><rect x="1483.38" y="319.33" width="18.26" height="13.77" fill="#fa7a00"/><rect x="1501.34" y="319.33" width="31.73" height="13.77" fill="#ffffb8"/><rect x="1532.77" y="319.33" width="13.77" height="13.77" fill="#9e1f00"/><rect x="1546.24" y="319.33" width="40.71" height="13.77" fill="#ffffb8"/><rect x="1429.50" y="332.80" width="22.75" height="9.28" fill="#570000"/><rect x="1451.95" y="332.80" width="9.28" height="9.28" fill="#ffeb6b"/><rect x="1460.93" y="332.80" width="9.28" height="9.28" fill="#fa7a00"/><rect x="1469.91" y="332.80" width="13.77" height="9.28" fill="#9e1f00"/><rect x="1483.38" y="332.80" width="18.26" height="9.28" fill="#ffc242"/><rect x="1501.34" y="332.80" width="13.77" height="9.28" fill="#ffeb6b"/><rect x="1514.81" y="332.80" width="9.28" height="9.28" fill="#ffff94"/><rect x="1523.79" y="332.80" width="9.28" height="9.28" fill="#fa7a00"/><rect x="1532.77" y="332.80" width="45.20" height="9.28" fill="#ffffb8"/><rect x="1577.67" y="332.80" width="9.28" height="9.28" fill="#ffeb6b"/></g>
<g shape-rendering="crispEdges"><rect x="1641.10" y="156.00" width="336.75" height="188.58" fill="#050000"/><rect x="1766.82" y="156.00" width="9.28" height="9.28" fill="#ffff94"/><rect x="1775.80" y="164.98" width="13.77" height="13.77" fill="#800000"/><rect x="1789.27" y="164.98" width="9.28" height="13.77" fill="#bd3d00"/><rect x="1798.25" y="164.98" width="9.28" height="13.77" fill="#1a0000"/><rect x="1807.23" y="164.98" width="13.77" height="13.77" fill="#330000"/><rect x="1820.70" y="164.98" width="9.28" height="13.77" fill="#1a0000"/><rect x="1829.68" y="164.98" width="13.77" height="13.77" fill="#330000"/><rect x="1843.15" y="164.98" width="49.69" height="13.77" fill="#1a0000"/><rect x="1798.25" y="178.45" width="22.75" height="9.28" fill="#ffff94"/><rect x="1820.70" y="178.45" width="22.75" height="9.28" fill="#1a0000"/><rect x="1843.15" y="178.45" width="31.73" height="9.28" fill="#570000"/><rect x="1874.58" y="178.45" width="9.28" height="9.28" fill="#330000"/><rect x="1883.56" y="178.45" width="9.28" height="9.28" fill="#1a0000"/><rect x="1798.25" y="187.43" width="9.28" height="9.28" fill="#ffffb8"/><rect x="1807.23" y="187.43" width="13.77" height="9.28" fill="#570000"/><rect x="1789.27" y="196.41" width="9.28" height="13.77" fill="#ffeb6b"/><rect x="1798.25" y="196.41" width="9.28" height="13.77" fill="#ffffb8"/><rect x="1807.23" y="196.41" width="13.77" height="13.77" fill="#db5c00"/><rect x="1820.70" y="196.41" width="9.28" height="13.77" fill="#ffffb8"/><rect x="1829.68" y="196.41" width="31.73" height="13.77" fill="#db5c00"/><rect x="1861.11" y="196.41" width="22.75" height="13.77" fill="#bd3d00"/><rect x="1883.56" y="196.41" width="22.75" height="13.77" fill="#9e1f00"/><rect x="1906.01" y="196.41" width="31.73" height="13.77" fill="#800000"/><rect x="1937.44" y="196.41" width="31.73" height="13.77" fill="#570000"/><rect x="1968.87" y="196.41" width="9.28" height="13.77" fill="#330000"/><rect x="1775.80" y="209.88" width="45.20" height="9.28" fill="#ffffb8"/><rect x="1820.70" y="209.88" width="9.28" height="9.28" fill="#ffc242"/><rect x="1829.68" y="209.88" width="13.77" height="9.28" fill="#ff9e1f"/><rect x="1843.15" y="209.88" width="9.28" height="9.28" fill="#fa7a00"/><rect x="1852.13" y="209.88" width="22.75" height="9.28" fill="#db5c00"/><rect x="1874.58" y="209.88" width="18.26" height="9.28" fill="#bd3d00"/><rect x="1892.54" y="209.88" width="22.75" height="9.28" fill="#9e1f00"/><rect x="1914.99" y="209.88" width="22.75" height="9.28" fill="#800000"/><rect x="1937.44" y="209.88" width="31.73" height="9.28" fill="#570000"/><rect x="1968.87" y="209.88" width="9.28" height="9.28" fill="#330000"/><rect x="1744.37" y="218.86" width="99.08" height="9.28" fill="#ffffb8"/><rect x="1843.15" y="218.86" width="9.28" height="9.28" fill="#ffeb6b"/><rect x="1852.13" y="218.86" width="22.75" height="9.28" fill="#fa7a00"/><rect x="1874.58" y="218.86" width="31.73" height="9.28" fill="#db5c00"/><rect x="1906.01" y="218.86" width="9.28" height="9.28" fill="#bd3d00"/><rect x="1914.99" y="218.86" width="31.73" height="9.28" fill="#800000"/><rect x="1946.42" y="218.86" width="22.75" height="9.28" fill="#570000"/><rect x="1968.87" y="218.86" width="9.28" height="9.28" fill="#330000"/><rect x="1681.51" y="227.84" width="148.47" height="13.77" fill="#ffffb8"/><rect x="1829.68" y="227.84" width="13.77" height="13.77" fill="#ffff94"/><rect x="1843.15" y="227.84" width="9.28" height="13.77" fill="#ffeb6b"/><rect x="1852.13" y="227.84" width="9.28" height="13.77" fill="#bd3d00"/><rect x="1861.11" y="227.84" width="13.77" height="13.77" fill="#9e1f00"/><rect x="1874.58" y="227.84" width="40.71" height="13.77" fill="#800000"/><rect x="1914.99" y="227.84" width="9.28" height="13.77" fill="#9e1f00"/><rect x="1923.97" y="227.84" width="13.77" height="13.77" fill="#800000"/><rect x="1937.44" y="227.84" width="18.26" height="13.77" fill="#570000"/><rect x="1955.40" y="227.84" width="22.75" height="13.77" fill="#330000"/><rect x="1650.08" y="241.31" width="63.16" height="9.28" fill="#ffffb8"/><rect x="1712.94" y="241.31" width="13.77" height="9.28" fill="#ffff94"/><rect x="1726.41" y="241.31" width="9.28" height="9.28" fill="#ffffb8"/><rect x="1735.39" y="241.31" width="22.75" height="9.28" fill="#ffff94"/><rect x="1757.84" y="241.31" width="9.28" height="9.28" fill="#ffc242"/><rect x="1766.82" y="241.31" width="9.28" height="9.28" fill="#fa7a00"/><rect x="1775.80" y="241.31" width="13.77" height="9.28" fill="#db5c00"/><rect x="1789.27" y="241.31" width="9.28" height="9.28" fill="#9e1f00"/><rect x="1798.25" y="241.31" width="22.75" height="9.28" fill="#800000"/><rect x="1820.70" y="241.31" width="9.28" height="9.28" fill="#570000"/><rect x="1829.68" y="241.31" width="13.77" height="9.28" fill="#330000"/><rect x="1843.15" y="241.31" width="18.26" height="9.28" fill="#1a0000"/><rect x="1650.08" y="250.29" width="108.06" height="9.28" fill="#ffffb8"/><rect x="1757.84" y="250.29" width="9.28" height="9.28" fill="#ffff94"/><rect x="1766.82" y="250.29" width="9.28" height="9.28" fill="#ff9e1f"/><rect x="1775.80" y="250.29" width="13.77" height="9.28" fill="#db5c00"/><rect x="1789.27" y="250.29" width="18.26" height="9.28" fill="#800000"/><rect x="1807.23" y="250.29" width="13.77" height="9.28" fill="#570000"/><rect x="1820.70" y="250.29" width="9.28" height="9.28" fill="#330000"/><rect x="1829.68" y="250.29" width="13.77" height="9.28" fill="#1a0000"/><rect x="1681.51" y="259.27" width="139.49" height="13.77" fill="#ffffb8"/><rect x="1820.70" y="259.27" width="9.28" height="13.77" fill="#ffff94"/><rect x="1829.68" y="259.27" width="13.77" height="13.77" fill="#fa7a00"/><rect x="1843.15" y="259.27" width="9.28" height="13.77" fill="#db5c00"/><rect x="1852.13" y="259.27" width="22.75" height="13.77" fill="#bd3d00"/><rect x="1874.58" y="259.27" width="31.73" height="13.77" fill="#800000"/><rect x="1906.01" y="259.27" width="18.26" height="13.77" fill="#570000"/><rect x="1923.97" y="259.27" width="13.77" height="13.77" fill="#1a0000"/><rect x="1744.37" y="272.74" width="99.08" height="9.28" fill="#ffffb8"/><rect x="1843.15" y="272.74" width="31.73" height="9.28" fill="#ffc242"/><rect x="1874.58" y="272.74" width="31.73" height="9.28" fill="#db5c00"/><rect x="1906.01" y="272.74" width="9.28" height="9.28" fill="#800000"/><rect x="1914.99" y="272.74" width="9.28" height="9.28" fill="#9e1f00"/><rect x="1923.97" y="272.74" width="13.77" height="9.28" fill="#800000"/><rect x="1937.44" y="272.74" width="9.28" height="9.28" fill="#570000"/><rect x="1946.42" y="272.74" width="9.28" height="9.28" fill="#330000"/><rect x="1955.40" y="272.74" width="13.77" height="9.28" fill="#1a0000"/><rect x="1775.80" y="281.72" width="45.20" height="9.28" fill="#ffffb8"/><rect x="1820.70" y="281.72" width="9.28" height="9.28" fill="#ffeb6b"/><rect x="1829.68" y="281.72" width="13.77" height="9.28" fill="#ffffb8"/><rect x="1843.15" y="281.72" width="18.26" height="9.28" fill="#ff9e1f"/><rect x="1861.11" y="281.72" width="22.75" height="9.28" fill="#fa7a00"/><rect x="1883.56" y="281.72" width="31.73" height="9.28" fill="#db5c00"/><rect x="1914.99" y="281.72" width="22.75" height="9.28" fill="#bd3d00"/><rect x="1937.44" y="281.72" width="9.28" height="9.28" fill="#9e1f00"/><rect x="1946.42" y="281.72" width="9.28" height="9.28" fill="#570000"/><rect x="1968.87" y="281.72" width="9.28" height="9.28" fill="#ffffb8"/><rect x="1789.27" y="290.70" width="31.73" height="13.77" fill="#ffffb8"/><rect x="1820.70" y="290.70" width="31.73" height="13.77" fill="#ff9e1f"/><rect x="1852.13" y="290.70" width="22.75" height="13.77" fill="#fa7a00"/><rect x="1874.58" y="290.70" width="18.26" height="13.77" fill="#bd3d00"/><rect x="1892.54" y="290.70" width="31.73" height="13.77" fill="#9e1f00"/><rect x="1923.97" y="290.70" width="22.75" height="13.77" fill="#800000"/><rect x="1946.42" y="290.70" width="9.28" height="13.77" fill="#330000"/><rect x="1955.40" y="290.70" width="13.77" height="13.77" fill="#1a0000"/><rect x="1798.25" y="304.17" width="9.28" height="9.28" fill="#db5c00"/><rect x="1807.23" y="304.17" width="13.77" height="9.28" fill="#fa7a00"/><rect x="1820.70" y="304.17" width="9.28" height="9.28" fill="#800000"/><rect x="1829.68" y="304.17" width="13.77" height="9.28" fill="#330000"/><rect x="1807.23" y="313.15" width="13.77" height="9.28" fill="#ffff94"/><rect x="1820.70" y="313.15" width="22.75" height="9.28" fill="#1a0000"/><rect x="1843.15" y="313.15" width="40.71" height="9.28" fill="#330000"/><rect x="1883.56" y="313.15" width="9.28" height="9.28" fill="#1a0000"/><rect x="1789.27" y="322.13" width="9.28" height="13.77" fill="#ffc242"/><rect x="1807.23" y="322.13" width="76.63" height="13.77" fill="#1a0000"/><rect x="1757.84" y="335.60" width="18.26" height="9.28" fill="#570000"/><rect x="1798.25" y="335.60" width="9.28" height="9.28" fill="#ffc242"/></g>
<defs><linearGradient id="cb" x1="0" y1="0" x2="0" y2="1"><stop offset="0" stop-color="#000"/><stop offset="0.265" stop-color="#800000"/><stop offset="0.53" stop-color="#ff8000"/><stop offset="0.80" stop-color="#ffff80"/><stop offset="1" stop-color="#ffffd8"/></linearGradient></defs>
<rect x="1993.5" y="153.2" width="18" height="190.4" fill="url(#cb)" stroke="#000" stroke-width="2.7"/>
<path d="M2012 157.2 H2026" stroke="#000" stroke-width="2.5"/>
<text x="2046" y="173.2" font-size="28.6" font-weight="normal" text-anchor="start" >10</text>
<text x="2081.5" y="151.9" font-size="20.5" font-weight="normal" text-anchor="start" >1</text>
<path d="M2012 238.2 H2026" stroke="#000" stroke-width="2.5"/>
<text x="2046" y="254.2" font-size="28.6" font-weight="normal" text-anchor="start" >10</text>
<text x="2080.5" y="232.9" font-size="20.5" font-weight="normal" text-anchor="start" >0</text>
<path d="M2012 319.2 H2026" stroke="#000" stroke-width="2.5"/>
<text x="2046" y="335.2" font-size="28.6" font-weight="normal" text-anchor="start" >10</text>
<text x="2080" y="318.9" font-size="20.5" font-weight="normal" text-anchor="start" >−1</text>
<text x="2106" y="335.3" font-size="31.6" font-weight="normal" text-anchor="start" >s</text>
<path d="M719.4 154.5 L719.4 120.1" stroke="#000" stroke-width="3.4" fill="none"/>
<path d="M719.4 103.6 L727.2 127.1 L719.4 120.1 L711.6 127.1 Z" fill="#000"/>
<path d="M701.6 200.7 L726.2 176.5" stroke="#000" stroke-width="3.4" fill="none"/>
<path d="M737.9 165.0 L726.6 187.0 L726.2 176.5 L715.7 175.9 Z" fill="#000"/>
<path d="M696.2 226.3 L731.4 226.3" stroke="#000" stroke-width="3.4" fill="none"/>
<path d="M747.9 226.3 L724.4 234.1 L731.4 226.3 L724.4 218.5 Z" fill="#000"/>
<path d="M701.6 247.8 L726.4 272.6" stroke="#000" stroke-width="3.4" fill="none"/>
<path d="M738.0 284.2 L715.9 273.1 L726.4 272.6 L726.9 262.1 Z" fill="#000"/>
<path d="M719.6 287.4 L719.6 321.9" stroke="#000" stroke-width="3.4" fill="none"/>
<path d="M719.6 338.4 L711.8 314.9 L719.6 321.9 L727.4 314.9 Z" fill="#000"/>
<path d="M1229.7 308.0 L1229.7 266.5" stroke="#000" stroke-width="3.4" fill="none"/>
<path d="M1229.7 250.0 L1237.5 273.5 L1229.7 266.5 L1221.9 273.5 Z" fill="#000"/>
<path d="M1278.6 361.9 L1320.0 361.9" stroke="#000" stroke-width="3.4" fill="none"/>
<path d="M1336.5 361.9 L1313.0 369.7 L1320.0 361.9 L1313.0 354.1 Z" fill="#000"/>
</svg>
</body></html>
